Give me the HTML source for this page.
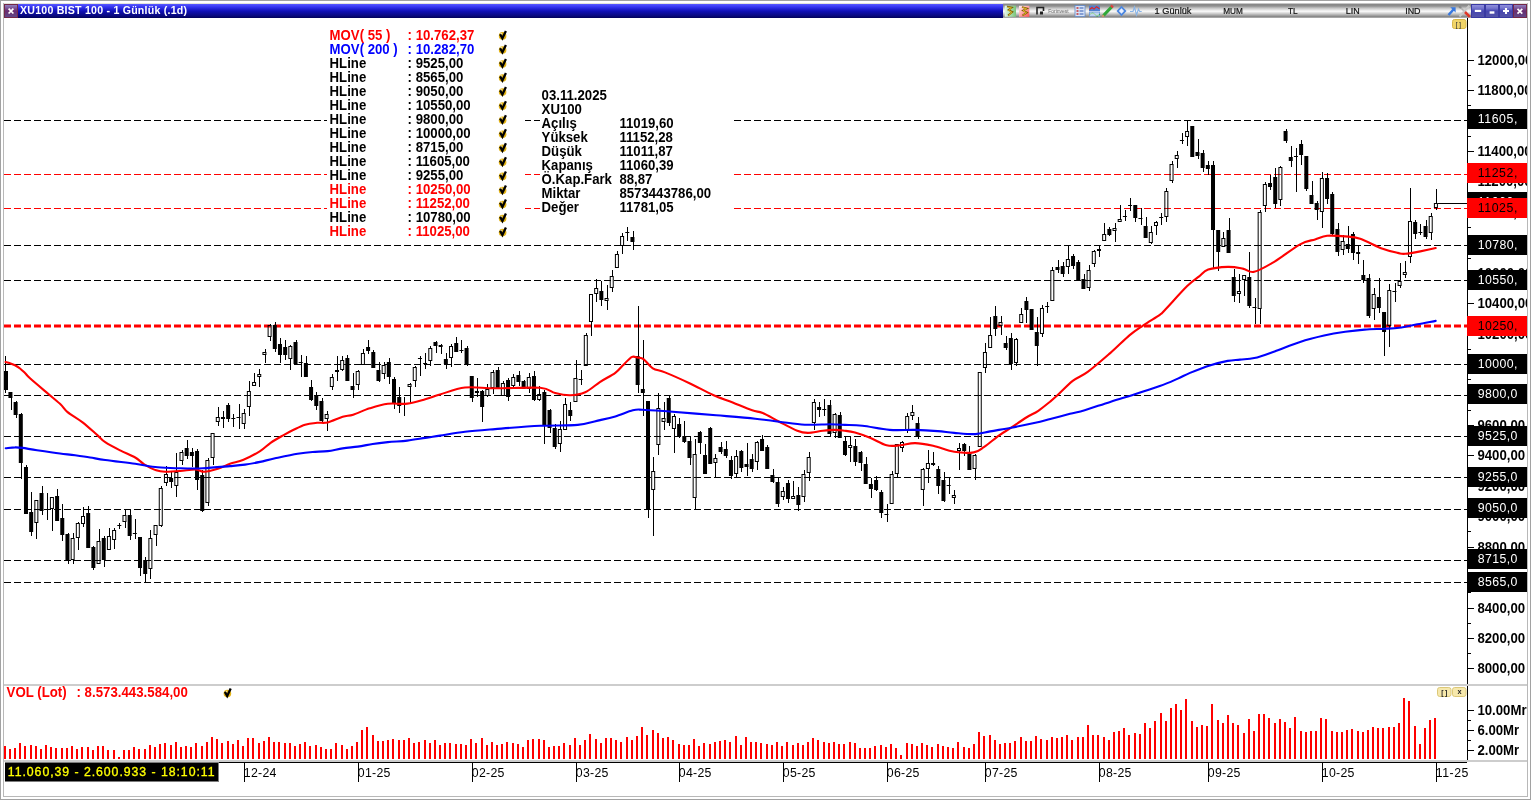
<!DOCTYPE html><html><head><meta charset="utf-8"><title>XU100</title>
<style>html,body{margin:0;padding:0;background:#fff;overflow:hidden}svg{display:block;will-change:transform}text{font-family:"Liberation Sans",sans-serif}</style></head><body>
<svg width="1531" height="800" viewBox="0 0 1531 800">
<defs>
<linearGradient id="gt" x1="0" y1="0" x2="0" y2="1"><stop offset="0" stop-color="#5a5aff"/><stop offset="0.18" stop-color="#3a3af4"/><stop offset="0.5" stop-color="#1010b8"/><stop offset="0.85" stop-color="#08087c"/><stop offset="1" stop-color="#000058"/></linearGradient>
<linearGradient id="gm" x1="0" y1="0" x2="0" y2="1"><stop offset="0" stop-color="#c6c6c6"/><stop offset="0.066" stop-color="#c6c6c6"/><stop offset="0.067" stop-color="#868686"/><stop offset="0.2" stop-color="#8e8e8e"/><stop offset="0.34" stop-color="#c4c4c4"/><stop offset="0.55" stop-color="#fbfbfb"/><stop offset="0.72" stop-color="#c8c8c8"/><stop offset="0.9" stop-color="#8a8a8a"/><stop offset="0.934" stop-color="#a6a6a6"/><stop offset="1" stop-color="#a6a6a6"/></linearGradient>
<linearGradient id="gg" x1="0" y1="0" x2="1" y2="0"><stop offset="0" stop-color="#e4f6e4"/><stop offset="1" stop-color="#78c478"/></linearGradient>
<linearGradient id="gr" x1="0" y1="0" x2="1" y2="1"><stop offset="0" stop-color="#fff4f4"/><stop offset="1" stop-color="#ff5050"/></linearGradient>
<linearGradient id="gb" x1="0" y1="0" x2="0" y2="1"><stop offset="0" stop-color="#9090dc"/><stop offset="0.28" stop-color="#7272cc"/><stop offset="0.5" stop-color="#4646b0"/><stop offset="1" stop-color="#5454a8"/></linearGradient>
<linearGradient id="gp" x1="0" y1="0" x2="0" y2="1"><stop offset="0" stop-color="#9080c0"/><stop offset="0.5" stop-color="#6a2c70"/><stop offset="1" stop-color="#604888"/></linearGradient>
<linearGradient id="gp2" x1="0" y1="0" x2="0" y2="1"><stop offset="0" stop-color="#803888"/><stop offset="0.5" stop-color="#6a2070"/><stop offset="1" stop-color="#5c2468"/></linearGradient>
<g id="chk"><circle cx="3.9" cy="5.6" r="3.8" fill="#e4b414"/><circle cx="2.6" cy="3.6" r="0.9" fill="#fff" opacity="0.8"/><path d="M1.4 3.9 L3.7 8.0 L7.2 0.6" fill="none" stroke="#000" stroke-width="2.3" stroke-linejoin="miter"/></g>
</defs>
<g shape-rendering="crispEdges">
<rect x="0" y="0" width="1531" height="800" fill="#fff"/>
<rect x="0" y="0" width="1531" height="1" fill="#a2a2a2"/><rect x="0" y="0" width="1" height="800" fill="#a2a2a2"/>
<rect x="0" y="799" width="1531" height="1" fill="#a2a2a2"/><rect x="1530" y="0" width="1" height="800" fill="#a2a2a2"/>
<rect x="3" y="3" width="1525" height="1" fill="#e4e4dc"/>
<rect x="3" y="3" width="1" height="794" fill="#b8b8b8"/>
<rect x="1527" y="3" width="1" height="794" fill="#b8b8b8"/>
<rect x="3" y="796" width="1525" height="1" fill="#b8b8b8"/>
<rect x="4" y="4" width="999" height="14" fill="url(#gt)"/>
<rect x="1003" y="3" width="468" height="15" fill="url(#gm)"/>
<rect x="4" y="4" width="14" height="14" fill="#742848"/><rect x="5" y="5" width="12" height="12" fill="url(#gp)"/>
<rect x="1471" y="4" width="14" height="14" fill="#3a3aa2"/><rect x="1472" y="5" width="12" height="12" fill="url(#gb)"/>
<rect x="1485" y="4" width="14" height="14" fill="#3a3aa2"/><rect x="1486" y="5" width="12" height="12" fill="url(#gb)"/>
<rect x="1499" y="4" width="14" height="14" fill="#3a3aa2"/><rect x="1500" y="5" width="12" height="12" fill="url(#gb)"/>
<rect x="1513" y="4" width="14" height="14" fill="#742848"/><rect x="1514" y="5" width="12" height="12" fill="url(#gp)"/>
</g>
<g stroke="#fff" stroke-linecap="butt" fill="none">
<path d="M8.6 8.7 L13.4 13.5 M13.4 8.7 L8.6 13.5" stroke-width="1.7"/>
<path d="M1474.8 10.9 H1481.2" stroke-width="2.2"/>
<path d="M1489.6 12.5 H1494.4" stroke-width="2.4"/>
<path d="M1503 11 H1509 M1506 8 V14" stroke-width="2.1"/>
<path d="M1517.5 8.8 L1522.3 13.6 M1522.3 8.8 L1517.5 13.6" stroke-width="1.7"/>
</g>
<text x="20" y="13.9" font-size="10.6" font-weight="bold" fill="#fff" textLength="167" lengthAdjust="spacing">XU100 BIST 100 - 1 Günlük (.1d)</text>
<text x="1154.6" y="13.6" font-size="8.3" fill="#111" stroke="#111" stroke-width="0.2" textLength="36.8" lengthAdjust="spacingAndGlyphs">1 Günlük</text>
<text x="1223.2" y="13.6" font-size="8.3" fill="#111" stroke="#111" stroke-width="0.2" textLength="19.6" lengthAdjust="spacingAndGlyphs">MUM</text>
<text x="1288" y="13.6" font-size="8.3" fill="#111" stroke="#111" stroke-width="0.2" textLength="9.6" lengthAdjust="spacingAndGlyphs">TL</text>
<text x="1345.8" y="13.6" font-size="8.3" fill="#111" stroke="#111" stroke-width="0.2" textLength="13.9" lengthAdjust="spacingAndGlyphs">LIN</text>
<text x="1405.2" y="13.6" font-size="8.3" fill="#111" stroke="#111" stroke-width="0.2" textLength="15.4" lengthAdjust="spacingAndGlyphs">IND</text>
<g>
<rect x="1004.7" y="5.6" width="11.3" height="11.2" fill="url(#gg)"/><path d="M1007 6.5 l5 1 l-3.5 2.5 l4 2 l-4.5 3.5" stroke="#7a5a08" stroke-width="1.6" fill="none"/><path d="M1007.5 7 l4 1 l-3 2.4 l3.6 2 l-3.6 3" stroke="#e8c020" stroke-width="0.9" fill="none"/>
<rect x="1019" y="5.8" width="10.3" height="11" fill="url(#gr)"/><path d="M1022 7 l5 1.5 l-4 2 l4 2 l-4.5 3" stroke="#7a5a08" stroke-width="1.7" fill="none"/><path d="M1022.5 7.4 l4 1.3 l-3.4 2 l3.4 2 l-3.6 2.6" stroke="#e8c020" stroke-width="0.9" fill="none"/>
<path d="M1037 14.5 V7.5 H1043.5 V11" stroke="#222" stroke-width="1.6" fill="none"/><rect x="1040" y="11.5" width="3" height="3" fill="#222"/>
<text x="1048.2" y="13.3" font-size="6.2" fill="#666" textLength="20.5" lengthAdjust="spacingAndGlyphs">Forinvest</text>
<rect x="1075" y="5.5" width="10" height="11" fill="#d8e4f8" stroke="#6088c8" stroke-width="0.8"/><path d="M1076.5 8 h2 M1076.5 11 h2 M1076.5 14 h2" stroke="#c03030" stroke-width="1.4"/><path d="M1079.5 8 h4 M1079.5 11 h4 M1079.5 14 h4" stroke="#3058b0" stroke-width="1.2"/>
<rect x="1089" y="5.5" width="11" height="5.5" fill="#5080d0"/><rect x="1089" y="11.5" width="11" height="5" fill="#78a0e0"/><path d="M1089.5 9.5 l2.5 -2 l2 1.6 l2.5 -2.4 l3 2" stroke="#e02020" stroke-width="1.1" fill="none"/><path d="M1090 14.5 q2.5 -3 5 0 t4.5 -0.5" stroke="#20a020" stroke-width="1.1" fill="none"/><rect x="1090" y="12.5" width="9" height="3.4" fill="#fff" opacity="0.55"/>
<path d="M1103.5 15.5 L1112 6.5" stroke="#30a838" stroke-width="3.2"/><path d="M1111.2 7.3 l1.6 -1.7" stroke="#e04040" stroke-width="3"/><path d="M1102.2 16.8 l1.6 -1.6" stroke="#c89860" stroke-width="2"/>
<path d="M1121.5 5.8 l5 5.2 l-5 5.2 l-5 -5.2 z" fill="#4a86e0"/><path d="M1121.5 8.3 l2.6 2.7 l-2.6 2.7 l-2.6 -2.7 z" fill="#e8f0ff"/>
<path d="M1130 11.5 h3 l1.5 -4.5 l2 8 l2 -6 l1.2 2.5 h2" stroke="#88b4e8" stroke-width="1.1" fill="none"/>
<path d="M1448.5 15 L1453.5 9.5" stroke="#3878e0" stroke-width="2.6"/><path d="M1450.3 7.2 h5.3 v5.4 z" fill="#3878e0"/>
<path d="M1459 6 L1469.5 16.5" stroke="#b0b0b0" stroke-width="1.6"/><path d="M1464.5 11.5 L1469.8 16.8" stroke="#e03828" stroke-width="2.6"/><path d="M1469.5 5.5 L1459.5 16.5" stroke="#c8c8c8" stroke-width="2"/><path d="M1459 6 l2 2" stroke="#888" stroke-width="2.4"/>
</g>
<rect x="1452.5" y="19.5" width="13.5" height="9" rx="2" fill="#f0d468" stroke="#d8b848" stroke-width="1"/>
<text x="1455.6" y="27" font-size="7.5" fill="#333" letter-spacing="1.2">[]</text>
<g shape-rendering="crispEdges">
<rect x="1467" y="18" width="1" height="742" fill="#000"/>
<rect x="4" y="684" width="1523" height="2" fill="#cdcdcd"/>
<rect x="4" y="760" width="1523" height="2" fill="#cdcdcd"/>
<rect x="219" y="762" width="1248" height="1" fill="#000"/>
<path d="M4 120h7v1h-7zM14 120h7v1h-7zM24 120h7v1h-7zM34 120h7v1h-7zM44 120h7v1h-7zM54 120h7v1h-7zM64 120h7v1h-7zM74 120h7v1h-7zM84 120h7v1h-7zM94 120h7v1h-7zM104 120h7v1h-7zM114 120h7v1h-7zM124 120h7v1h-7zM134 120h7v1h-7zM144 120h7v1h-7zM154 120h7v1h-7zM164 120h7v1h-7zM174 120h7v1h-7zM184 120h7v1h-7zM194 120h7v1h-7zM204 120h7v1h-7zM214 120h7v1h-7zM224 120h7v1h-7zM234 120h7v1h-7zM244 120h7v1h-7zM254 120h7v1h-7zM264 120h7v1h-7zM274 120h7v1h-7zM284 120h7v1h-7zM294 120h7v1h-7zM304 120h7v1h-7zM314 120h7v1h-7zM324 120h7v1h-7zM334 120h7v1h-7zM344 120h7v1h-7zM354 120h7v1h-7zM364 120h7v1h-7zM374 120h7v1h-7zM384 120h7v1h-7zM394 120h7v1h-7zM404 120h7v1h-7zM414 120h7v1h-7zM424 120h7v1h-7zM434 120h7v1h-7zM444 120h7v1h-7zM454 120h7v1h-7zM464 120h7v1h-7zM474 120h7v1h-7zM484 120h7v1h-7zM494 120h7v1h-7zM504 120h7v1h-7zM514 120h7v1h-7zM524 120h7v1h-7zM534 120h7v1h-7zM544 120h7v1h-7zM554 120h7v1h-7zM564 120h7v1h-7zM574 120h7v1h-7zM584 120h7v1h-7zM594 120h7v1h-7zM604 120h7v1h-7zM614 120h7v1h-7zM624 120h7v1h-7zM634 120h7v1h-7zM644 120h7v1h-7zM654 120h7v1h-7zM664 120h7v1h-7zM674 120h7v1h-7zM684 120h7v1h-7zM694 120h7v1h-7zM704 120h7v1h-7zM714 120h7v1h-7zM724 120h7v1h-7zM734 120h7v1h-7zM744 120h7v1h-7zM754 120h7v1h-7zM764 120h7v1h-7zM774 120h7v1h-7zM784 120h7v1h-7zM794 120h7v1h-7zM804 120h7v1h-7zM814 120h7v1h-7zM824 120h7v1h-7zM834 120h7v1h-7zM844 120h7v1h-7zM854 120h7v1h-7zM864 120h7v1h-7zM874 120h7v1h-7zM884 120h7v1h-7zM894 120h7v1h-7zM904 120h7v1h-7zM914 120h7v1h-7zM924 120h7v1h-7zM934 120h7v1h-7zM944 120h7v1h-7zM954 120h7v1h-7zM964 120h7v1h-7zM974 120h7v1h-7zM984 120h7v1h-7zM994 120h7v1h-7zM1004 120h7v1h-7zM1014 120h7v1h-7zM1024 120h7v1h-7zM1034 120h7v1h-7zM1044 120h7v1h-7zM1054 120h7v1h-7zM1064 120h7v1h-7zM1074 120h7v1h-7zM1084 120h7v1h-7zM1094 120h7v1h-7zM1104 120h7v1h-7zM1114 120h7v1h-7zM1124 120h7v1h-7zM1134 120h7v1h-7zM1144 120h7v1h-7zM1154 120h7v1h-7zM1164 120h7v1h-7zM1174 120h7v1h-7zM1184 120h7v1h-7zM1194 120h7v1h-7zM1204 120h7v1h-7zM1214 120h7v1h-7zM1224 120h7v1h-7zM1234 120h7v1h-7zM1244 120h7v1h-7zM1254 120h7v1h-7zM1264 120h7v1h-7zM1274 120h7v1h-7zM1284 120h7v1h-7zM1294 120h7v1h-7zM1304 120h7v1h-7zM1314 120h7v1h-7zM1324 120h7v1h-7zM1334 120h7v1h-7zM1344 120h7v1h-7zM1354 120h7v1h-7zM1364 120h7v1h-7zM1374 120h7v1h-7zM1384 120h7v1h-7zM1394 120h7v1h-7zM1404 120h7v1h-7zM1414 120h7v1h-7zM1424 120h7v1h-7zM1434 120h7v1h-7zM1444 120h7v1h-7zM1454 120h7v1h-7zM1464 120h3v1h-3z" fill="#000"/>
<path d="M4 174h7v1h-7zM14 174h7v1h-7zM24 174h7v1h-7zM34 174h7v1h-7zM44 174h7v1h-7zM54 174h7v1h-7zM64 174h7v1h-7zM74 174h7v1h-7zM84 174h7v1h-7zM94 174h7v1h-7zM104 174h7v1h-7zM114 174h7v1h-7zM124 174h7v1h-7zM134 174h7v1h-7zM144 174h7v1h-7zM154 174h7v1h-7zM164 174h7v1h-7zM174 174h7v1h-7zM184 174h7v1h-7zM194 174h7v1h-7zM204 174h7v1h-7zM214 174h7v1h-7zM224 174h7v1h-7zM234 174h7v1h-7zM244 174h7v1h-7zM254 174h7v1h-7zM264 174h7v1h-7zM274 174h7v1h-7zM284 174h7v1h-7zM294 174h7v1h-7zM304 174h7v1h-7zM314 174h7v1h-7zM324 174h7v1h-7zM334 174h7v1h-7zM344 174h7v1h-7zM354 174h7v1h-7zM364 174h7v1h-7zM374 174h7v1h-7zM384 174h7v1h-7zM394 174h7v1h-7zM404 174h7v1h-7zM414 174h7v1h-7zM424 174h7v1h-7zM434 174h7v1h-7zM444 174h7v1h-7zM454 174h7v1h-7zM464 174h7v1h-7zM474 174h7v1h-7zM484 174h7v1h-7zM494 174h7v1h-7zM504 174h7v1h-7zM514 174h7v1h-7zM524 174h7v1h-7zM534 174h7v1h-7zM544 174h7v1h-7zM554 174h7v1h-7zM564 174h7v1h-7zM574 174h7v1h-7zM584 174h7v1h-7zM594 174h7v1h-7zM604 174h7v1h-7zM614 174h7v1h-7zM624 174h7v1h-7zM634 174h7v1h-7zM644 174h7v1h-7zM654 174h7v1h-7zM664 174h7v1h-7zM674 174h7v1h-7zM684 174h7v1h-7zM694 174h7v1h-7zM704 174h7v1h-7zM714 174h7v1h-7zM724 174h7v1h-7zM734 174h7v1h-7zM744 174h7v1h-7zM754 174h7v1h-7zM764 174h7v1h-7zM774 174h7v1h-7zM784 174h7v1h-7zM794 174h7v1h-7zM804 174h7v1h-7zM814 174h7v1h-7zM824 174h7v1h-7zM834 174h7v1h-7zM844 174h7v1h-7zM854 174h7v1h-7zM864 174h7v1h-7zM874 174h7v1h-7zM884 174h7v1h-7zM894 174h7v1h-7zM904 174h7v1h-7zM914 174h7v1h-7zM924 174h7v1h-7zM934 174h7v1h-7zM944 174h7v1h-7zM954 174h7v1h-7zM964 174h7v1h-7zM974 174h7v1h-7zM984 174h7v1h-7zM994 174h7v1h-7zM1004 174h7v1h-7zM1014 174h7v1h-7zM1024 174h7v1h-7zM1034 174h7v1h-7zM1044 174h7v1h-7zM1054 174h7v1h-7zM1064 174h7v1h-7zM1074 174h7v1h-7zM1084 174h7v1h-7zM1094 174h7v1h-7zM1104 174h7v1h-7zM1114 174h7v1h-7zM1124 174h7v1h-7zM1134 174h7v1h-7zM1144 174h7v1h-7zM1154 174h7v1h-7zM1164 174h7v1h-7zM1174 174h7v1h-7zM1184 174h7v1h-7zM1194 174h7v1h-7zM1204 174h7v1h-7zM1214 174h7v1h-7zM1224 174h7v1h-7zM1234 174h7v1h-7zM1244 174h7v1h-7zM1254 174h7v1h-7zM1264 174h7v1h-7zM1274 174h7v1h-7zM1284 174h7v1h-7zM1294 174h7v1h-7zM1304 174h7v1h-7zM1314 174h7v1h-7zM1324 174h7v1h-7zM1334 174h7v1h-7zM1344 174h7v1h-7zM1354 174h7v1h-7zM1364 174h7v1h-7zM1374 174h7v1h-7zM1384 174h7v1h-7zM1394 174h7v1h-7zM1404 174h7v1h-7zM1414 174h7v1h-7zM1424 174h7v1h-7zM1434 174h7v1h-7zM1444 174h7v1h-7zM1454 174h7v1h-7zM1464 174h3v1h-3z" fill="#f00"/>
<path d="M4 208h7v1h-7zM14 208h7v1h-7zM24 208h7v1h-7zM34 208h7v1h-7zM44 208h7v1h-7zM54 208h7v1h-7zM64 208h7v1h-7zM74 208h7v1h-7zM84 208h7v1h-7zM94 208h7v1h-7zM104 208h7v1h-7zM114 208h7v1h-7zM124 208h7v1h-7zM134 208h7v1h-7zM144 208h7v1h-7zM154 208h7v1h-7zM164 208h7v1h-7zM174 208h7v1h-7zM184 208h7v1h-7zM194 208h7v1h-7zM204 208h7v1h-7zM214 208h7v1h-7zM224 208h7v1h-7zM234 208h7v1h-7zM244 208h7v1h-7zM254 208h7v1h-7zM264 208h7v1h-7zM274 208h7v1h-7zM284 208h7v1h-7zM294 208h7v1h-7zM304 208h7v1h-7zM314 208h7v1h-7zM324 208h7v1h-7zM334 208h7v1h-7zM344 208h7v1h-7zM354 208h7v1h-7zM364 208h7v1h-7zM374 208h7v1h-7zM384 208h7v1h-7zM394 208h7v1h-7zM404 208h7v1h-7zM414 208h7v1h-7zM424 208h7v1h-7zM434 208h7v1h-7zM444 208h7v1h-7zM454 208h7v1h-7zM464 208h7v1h-7zM474 208h7v1h-7zM484 208h7v1h-7zM494 208h7v1h-7zM504 208h7v1h-7zM514 208h7v1h-7zM524 208h7v1h-7zM534 208h7v1h-7zM544 208h7v1h-7zM554 208h7v1h-7zM564 208h7v1h-7zM574 208h7v1h-7zM584 208h7v1h-7zM594 208h7v1h-7zM604 208h7v1h-7zM614 208h7v1h-7zM624 208h7v1h-7zM634 208h7v1h-7zM644 208h7v1h-7zM654 208h7v1h-7zM664 208h7v1h-7zM674 208h7v1h-7zM684 208h7v1h-7zM694 208h7v1h-7zM704 208h7v1h-7zM714 208h7v1h-7zM724 208h7v1h-7zM734 208h7v1h-7zM744 208h7v1h-7zM754 208h7v1h-7zM764 208h7v1h-7zM774 208h7v1h-7zM784 208h7v1h-7zM794 208h7v1h-7zM804 208h7v1h-7zM814 208h7v1h-7zM824 208h7v1h-7zM834 208h7v1h-7zM844 208h7v1h-7zM854 208h7v1h-7zM864 208h7v1h-7zM874 208h7v1h-7zM884 208h7v1h-7zM894 208h7v1h-7zM904 208h7v1h-7zM914 208h7v1h-7zM924 208h7v1h-7zM934 208h7v1h-7zM944 208h7v1h-7zM954 208h7v1h-7zM964 208h7v1h-7zM974 208h7v1h-7zM984 208h7v1h-7zM994 208h7v1h-7zM1004 208h7v1h-7zM1014 208h7v1h-7zM1024 208h7v1h-7zM1034 208h7v1h-7zM1044 208h7v1h-7zM1054 208h7v1h-7zM1064 208h7v1h-7zM1074 208h7v1h-7zM1084 208h7v1h-7zM1094 208h7v1h-7zM1104 208h7v1h-7zM1114 208h7v1h-7zM1124 208h7v1h-7zM1134 208h7v1h-7zM1144 208h7v1h-7zM1154 208h7v1h-7zM1164 208h7v1h-7zM1174 208h7v1h-7zM1184 208h7v1h-7zM1194 208h7v1h-7zM1204 208h7v1h-7zM1214 208h7v1h-7zM1224 208h7v1h-7zM1234 208h7v1h-7zM1244 208h7v1h-7zM1254 208h7v1h-7zM1264 208h7v1h-7zM1274 208h7v1h-7zM1284 208h7v1h-7zM1294 208h7v1h-7zM1304 208h7v1h-7zM1314 208h7v1h-7zM1324 208h7v1h-7zM1334 208h7v1h-7zM1344 208h7v1h-7zM1354 208h7v1h-7zM1364 208h7v1h-7zM1374 208h7v1h-7zM1384 208h7v1h-7zM1394 208h7v1h-7zM1404 208h7v1h-7zM1414 208h7v1h-7zM1424 208h7v1h-7zM1434 208h7v1h-7zM1444 208h7v1h-7zM1454 208h7v1h-7zM1464 208h3v1h-3z" fill="#f00"/>
<path d="M4 245h7v1h-7zM14 245h7v1h-7zM24 245h7v1h-7zM34 245h7v1h-7zM44 245h7v1h-7zM54 245h7v1h-7zM64 245h7v1h-7zM74 245h7v1h-7zM84 245h7v1h-7zM94 245h7v1h-7zM104 245h7v1h-7zM114 245h7v1h-7zM124 245h7v1h-7zM134 245h7v1h-7zM144 245h7v1h-7zM154 245h7v1h-7zM164 245h7v1h-7zM174 245h7v1h-7zM184 245h7v1h-7zM194 245h7v1h-7zM204 245h7v1h-7zM214 245h7v1h-7zM224 245h7v1h-7zM234 245h7v1h-7zM244 245h7v1h-7zM254 245h7v1h-7zM264 245h7v1h-7zM274 245h7v1h-7zM284 245h7v1h-7zM294 245h7v1h-7zM304 245h7v1h-7zM314 245h7v1h-7zM324 245h7v1h-7zM334 245h7v1h-7zM344 245h7v1h-7zM354 245h7v1h-7zM364 245h7v1h-7zM374 245h7v1h-7zM384 245h7v1h-7zM394 245h7v1h-7zM404 245h7v1h-7zM414 245h7v1h-7zM424 245h7v1h-7zM434 245h7v1h-7zM444 245h7v1h-7zM454 245h7v1h-7zM464 245h7v1h-7zM474 245h7v1h-7zM484 245h7v1h-7zM494 245h7v1h-7zM504 245h7v1h-7zM514 245h7v1h-7zM524 245h7v1h-7zM534 245h7v1h-7zM544 245h7v1h-7zM554 245h7v1h-7zM564 245h7v1h-7zM574 245h7v1h-7zM584 245h7v1h-7zM594 245h7v1h-7zM604 245h7v1h-7zM614 245h7v1h-7zM624 245h7v1h-7zM634 245h7v1h-7zM644 245h7v1h-7zM654 245h7v1h-7zM664 245h7v1h-7zM674 245h7v1h-7zM684 245h7v1h-7zM694 245h7v1h-7zM704 245h7v1h-7zM714 245h7v1h-7zM724 245h7v1h-7zM734 245h7v1h-7zM744 245h7v1h-7zM754 245h7v1h-7zM764 245h7v1h-7zM774 245h7v1h-7zM784 245h7v1h-7zM794 245h7v1h-7zM804 245h7v1h-7zM814 245h7v1h-7zM824 245h7v1h-7zM834 245h7v1h-7zM844 245h7v1h-7zM854 245h7v1h-7zM864 245h7v1h-7zM874 245h7v1h-7zM884 245h7v1h-7zM894 245h7v1h-7zM904 245h7v1h-7zM914 245h7v1h-7zM924 245h7v1h-7zM934 245h7v1h-7zM944 245h7v1h-7zM954 245h7v1h-7zM964 245h7v1h-7zM974 245h7v1h-7zM984 245h7v1h-7zM994 245h7v1h-7zM1004 245h7v1h-7zM1014 245h7v1h-7zM1024 245h7v1h-7zM1034 245h7v1h-7zM1044 245h7v1h-7zM1054 245h7v1h-7zM1064 245h7v1h-7zM1074 245h7v1h-7zM1084 245h7v1h-7zM1094 245h7v1h-7zM1104 245h7v1h-7zM1114 245h7v1h-7zM1124 245h7v1h-7zM1134 245h7v1h-7zM1144 245h7v1h-7zM1154 245h7v1h-7zM1164 245h7v1h-7zM1174 245h7v1h-7zM1184 245h7v1h-7zM1194 245h7v1h-7zM1204 245h7v1h-7zM1214 245h7v1h-7zM1224 245h7v1h-7zM1234 245h7v1h-7zM1244 245h7v1h-7zM1254 245h7v1h-7zM1264 245h7v1h-7zM1274 245h7v1h-7zM1284 245h7v1h-7zM1294 245h7v1h-7zM1304 245h7v1h-7zM1314 245h7v1h-7zM1324 245h7v1h-7zM1334 245h7v1h-7zM1344 245h7v1h-7zM1354 245h7v1h-7zM1364 245h7v1h-7zM1374 245h7v1h-7zM1384 245h7v1h-7zM1394 245h7v1h-7zM1404 245h7v1h-7zM1414 245h7v1h-7zM1424 245h7v1h-7zM1434 245h7v1h-7zM1444 245h7v1h-7zM1454 245h7v1h-7zM1464 245h3v1h-3z" fill="#000"/>
<path d="M4 280h7v1h-7zM14 280h7v1h-7zM24 280h7v1h-7zM34 280h7v1h-7zM44 280h7v1h-7zM54 280h7v1h-7zM64 280h7v1h-7zM74 280h7v1h-7zM84 280h7v1h-7zM94 280h7v1h-7zM104 280h7v1h-7zM114 280h7v1h-7zM124 280h7v1h-7zM134 280h7v1h-7zM144 280h7v1h-7zM154 280h7v1h-7zM164 280h7v1h-7zM174 280h7v1h-7zM184 280h7v1h-7zM194 280h7v1h-7zM204 280h7v1h-7zM214 280h7v1h-7zM224 280h7v1h-7zM234 280h7v1h-7zM244 280h7v1h-7zM254 280h7v1h-7zM264 280h7v1h-7zM274 280h7v1h-7zM284 280h7v1h-7zM294 280h7v1h-7zM304 280h7v1h-7zM314 280h7v1h-7zM324 280h7v1h-7zM334 280h7v1h-7zM344 280h7v1h-7zM354 280h7v1h-7zM364 280h7v1h-7zM374 280h7v1h-7zM384 280h7v1h-7zM394 280h7v1h-7zM404 280h7v1h-7zM414 280h7v1h-7zM424 280h7v1h-7zM434 280h7v1h-7zM444 280h7v1h-7zM454 280h7v1h-7zM464 280h7v1h-7zM474 280h7v1h-7zM484 280h7v1h-7zM494 280h7v1h-7zM504 280h7v1h-7zM514 280h7v1h-7zM524 280h7v1h-7zM534 280h7v1h-7zM544 280h7v1h-7zM554 280h7v1h-7zM564 280h7v1h-7zM574 280h7v1h-7zM584 280h7v1h-7zM594 280h7v1h-7zM604 280h7v1h-7zM614 280h7v1h-7zM624 280h7v1h-7zM634 280h7v1h-7zM644 280h7v1h-7zM654 280h7v1h-7zM664 280h7v1h-7zM674 280h7v1h-7zM684 280h7v1h-7zM694 280h7v1h-7zM704 280h7v1h-7zM714 280h7v1h-7zM724 280h7v1h-7zM734 280h7v1h-7zM744 280h7v1h-7zM754 280h7v1h-7zM764 280h7v1h-7zM774 280h7v1h-7zM784 280h7v1h-7zM794 280h7v1h-7zM804 280h7v1h-7zM814 280h7v1h-7zM824 280h7v1h-7zM834 280h7v1h-7zM844 280h7v1h-7zM854 280h7v1h-7zM864 280h7v1h-7zM874 280h7v1h-7zM884 280h7v1h-7zM894 280h7v1h-7zM904 280h7v1h-7zM914 280h7v1h-7zM924 280h7v1h-7zM934 280h7v1h-7zM944 280h7v1h-7zM954 280h7v1h-7zM964 280h7v1h-7zM974 280h7v1h-7zM984 280h7v1h-7zM994 280h7v1h-7zM1004 280h7v1h-7zM1014 280h7v1h-7zM1024 280h7v1h-7zM1034 280h7v1h-7zM1044 280h7v1h-7zM1054 280h7v1h-7zM1064 280h7v1h-7zM1074 280h7v1h-7zM1084 280h7v1h-7zM1094 280h7v1h-7zM1104 280h7v1h-7zM1114 280h7v1h-7zM1124 280h7v1h-7zM1134 280h7v1h-7zM1144 280h7v1h-7zM1154 280h7v1h-7zM1164 280h7v1h-7zM1174 280h7v1h-7zM1184 280h7v1h-7zM1194 280h7v1h-7zM1204 280h7v1h-7zM1214 280h7v1h-7zM1224 280h7v1h-7zM1234 280h7v1h-7zM1244 280h7v1h-7zM1254 280h7v1h-7zM1264 280h7v1h-7zM1274 280h7v1h-7zM1284 280h7v1h-7zM1294 280h7v1h-7zM1304 280h7v1h-7zM1314 280h7v1h-7zM1324 280h7v1h-7zM1334 280h7v1h-7zM1344 280h7v1h-7zM1354 280h7v1h-7zM1364 280h7v1h-7zM1374 280h7v1h-7zM1384 280h7v1h-7zM1394 280h7v1h-7zM1404 280h7v1h-7zM1414 280h7v1h-7zM1424 280h7v1h-7zM1434 280h7v1h-7zM1444 280h7v1h-7zM1454 280h7v1h-7zM1464 280h3v1h-3z" fill="#000"/>
<path d="M4 324.6h7v3h-7zM14 324.6h7v3h-7zM24 324.6h7v3h-7zM34 324.6h7v3h-7zM44 324.6h7v3h-7zM54 324.6h7v3h-7zM64 324.6h7v3h-7zM74 324.6h7v3h-7zM84 324.6h7v3h-7zM94 324.6h7v3h-7zM104 324.6h7v3h-7zM114 324.6h7v3h-7zM124 324.6h7v3h-7zM134 324.6h7v3h-7zM144 324.6h7v3h-7zM154 324.6h7v3h-7zM164 324.6h7v3h-7zM174 324.6h7v3h-7zM184 324.6h7v3h-7zM194 324.6h7v3h-7zM204 324.6h7v3h-7zM214 324.6h7v3h-7zM224 324.6h7v3h-7zM234 324.6h7v3h-7zM244 324.6h7v3h-7zM254 324.6h7v3h-7zM264 324.6h7v3h-7zM274 324.6h7v3h-7zM284 324.6h7v3h-7zM294 324.6h7v3h-7zM304 324.6h7v3h-7zM314 324.6h7v3h-7zM324 324.6h7v3h-7zM334 324.6h7v3h-7zM344 324.6h7v3h-7zM354 324.6h7v3h-7zM364 324.6h7v3h-7zM374 324.6h7v3h-7zM384 324.6h7v3h-7zM394 324.6h7v3h-7zM404 324.6h7v3h-7zM414 324.6h7v3h-7zM424 324.6h7v3h-7zM434 324.6h7v3h-7zM444 324.6h7v3h-7zM454 324.6h7v3h-7zM464 324.6h7v3h-7zM474 324.6h7v3h-7zM484 324.6h7v3h-7zM494 324.6h7v3h-7zM504 324.6h7v3h-7zM514 324.6h7v3h-7zM524 324.6h7v3h-7zM534 324.6h7v3h-7zM544 324.6h7v3h-7zM554 324.6h7v3h-7zM564 324.6h7v3h-7zM574 324.6h7v3h-7zM584 324.6h7v3h-7zM594 324.6h7v3h-7zM604 324.6h7v3h-7zM614 324.6h7v3h-7zM624 324.6h7v3h-7zM634 324.6h7v3h-7zM644 324.6h7v3h-7zM654 324.6h7v3h-7zM664 324.6h7v3h-7zM674 324.6h7v3h-7zM684 324.6h7v3h-7zM694 324.6h7v3h-7zM704 324.6h7v3h-7zM714 324.6h7v3h-7zM724 324.6h7v3h-7zM734 324.6h7v3h-7zM744 324.6h7v3h-7zM754 324.6h7v3h-7zM764 324.6h7v3h-7zM774 324.6h7v3h-7zM784 324.6h7v3h-7zM794 324.6h7v3h-7zM804 324.6h7v3h-7zM814 324.6h7v3h-7zM824 324.6h7v3h-7zM834 324.6h7v3h-7zM844 324.6h7v3h-7zM854 324.6h7v3h-7zM864 324.6h7v3h-7zM874 324.6h7v3h-7zM884 324.6h7v3h-7zM894 324.6h7v3h-7zM904 324.6h7v3h-7zM914 324.6h7v3h-7zM924 324.6h7v3h-7zM934 324.6h7v3h-7zM944 324.6h7v3h-7zM954 324.6h7v3h-7zM964 324.6h7v3h-7zM974 324.6h7v3h-7zM984 324.6h7v3h-7zM994 324.6h7v3h-7zM1004 324.6h7v3h-7zM1014 324.6h7v3h-7zM1024 324.6h7v3h-7zM1034 324.6h7v3h-7zM1044 324.6h7v3h-7zM1054 324.6h7v3h-7zM1064 324.6h7v3h-7zM1074 324.6h7v3h-7zM1084 324.6h7v3h-7zM1094 324.6h7v3h-7zM1104 324.6h7v3h-7zM1114 324.6h7v3h-7zM1124 324.6h7v3h-7zM1134 324.6h7v3h-7zM1144 324.6h7v3h-7zM1154 324.6h7v3h-7zM1164 324.6h7v3h-7zM1174 324.6h7v3h-7zM1184 324.6h7v3h-7zM1194 324.6h7v3h-7zM1204 324.6h7v3h-7zM1214 324.6h7v3h-7zM1224 324.6h7v3h-7zM1234 324.6h7v3h-7zM1244 324.6h7v3h-7zM1254 324.6h7v3h-7zM1264 324.6h7v3h-7zM1274 324.6h7v3h-7zM1284 324.6h7v3h-7zM1294 324.6h7v3h-7zM1304 324.6h7v3h-7zM1314 324.6h7v3h-7zM1324 324.6h7v3h-7zM1334 324.6h7v3h-7zM1344 324.6h7v3h-7zM1354 324.6h7v3h-7zM1364 324.6h7v3h-7zM1374 324.6h7v3h-7zM1384 324.6h7v3h-7zM1394 324.6h7v3h-7zM1404 324.6h7v3h-7zM1414 324.6h7v3h-7zM1424 324.6h7v3h-7zM1434 324.6h7v3h-7zM1444 324.6h7v3h-7zM1454 324.6h7v3h-7zM1464 324.6h3v3h-3z" fill="#f00" shape-rendering="geometricPrecision"/>
<path d="M4 364h7v1h-7zM14 364h7v1h-7zM24 364h7v1h-7zM34 364h7v1h-7zM44 364h7v1h-7zM54 364h7v1h-7zM64 364h7v1h-7zM74 364h7v1h-7zM84 364h7v1h-7zM94 364h7v1h-7zM104 364h7v1h-7zM114 364h7v1h-7zM124 364h7v1h-7zM134 364h7v1h-7zM144 364h7v1h-7zM154 364h7v1h-7zM164 364h7v1h-7zM174 364h7v1h-7zM184 364h7v1h-7zM194 364h7v1h-7zM204 364h7v1h-7zM214 364h7v1h-7zM224 364h7v1h-7zM234 364h7v1h-7zM244 364h7v1h-7zM254 364h7v1h-7zM264 364h7v1h-7zM274 364h7v1h-7zM284 364h7v1h-7zM294 364h7v1h-7zM304 364h7v1h-7zM314 364h7v1h-7zM324 364h7v1h-7zM334 364h7v1h-7zM344 364h7v1h-7zM354 364h7v1h-7zM364 364h7v1h-7zM374 364h7v1h-7zM384 364h7v1h-7zM394 364h7v1h-7zM404 364h7v1h-7zM414 364h7v1h-7zM424 364h7v1h-7zM434 364h7v1h-7zM444 364h7v1h-7zM454 364h7v1h-7zM464 364h7v1h-7zM474 364h7v1h-7zM484 364h7v1h-7zM494 364h7v1h-7zM504 364h7v1h-7zM514 364h7v1h-7zM524 364h7v1h-7zM534 364h7v1h-7zM544 364h7v1h-7zM554 364h7v1h-7zM564 364h7v1h-7zM574 364h7v1h-7zM584 364h7v1h-7zM594 364h7v1h-7zM604 364h7v1h-7zM614 364h7v1h-7zM624 364h7v1h-7zM634 364h7v1h-7zM644 364h7v1h-7zM654 364h7v1h-7zM664 364h7v1h-7zM674 364h7v1h-7zM684 364h7v1h-7zM694 364h7v1h-7zM704 364h7v1h-7zM714 364h7v1h-7zM724 364h7v1h-7zM734 364h7v1h-7zM744 364h7v1h-7zM754 364h7v1h-7zM764 364h7v1h-7zM774 364h7v1h-7zM784 364h7v1h-7zM794 364h7v1h-7zM804 364h7v1h-7zM814 364h7v1h-7zM824 364h7v1h-7zM834 364h7v1h-7zM844 364h7v1h-7zM854 364h7v1h-7zM864 364h7v1h-7zM874 364h7v1h-7zM884 364h7v1h-7zM894 364h7v1h-7zM904 364h7v1h-7zM914 364h7v1h-7zM924 364h7v1h-7zM934 364h7v1h-7zM944 364h7v1h-7zM954 364h7v1h-7zM964 364h7v1h-7zM974 364h7v1h-7zM984 364h7v1h-7zM994 364h7v1h-7zM1004 364h7v1h-7zM1014 364h7v1h-7zM1024 364h7v1h-7zM1034 364h7v1h-7zM1044 364h7v1h-7zM1054 364h7v1h-7zM1064 364h7v1h-7zM1074 364h7v1h-7zM1084 364h7v1h-7zM1094 364h7v1h-7zM1104 364h7v1h-7zM1114 364h7v1h-7zM1124 364h7v1h-7zM1134 364h7v1h-7zM1144 364h7v1h-7zM1154 364h7v1h-7zM1164 364h7v1h-7zM1174 364h7v1h-7zM1184 364h7v1h-7zM1194 364h7v1h-7zM1204 364h7v1h-7zM1214 364h7v1h-7zM1224 364h7v1h-7zM1234 364h7v1h-7zM1244 364h7v1h-7zM1254 364h7v1h-7zM1264 364h7v1h-7zM1274 364h7v1h-7zM1284 364h7v1h-7zM1294 364h7v1h-7zM1304 364h7v1h-7zM1314 364h7v1h-7zM1324 364h7v1h-7zM1334 364h7v1h-7zM1344 364h7v1h-7zM1354 364h7v1h-7zM1364 364h7v1h-7zM1374 364h7v1h-7zM1384 364h7v1h-7zM1394 364h7v1h-7zM1404 364h7v1h-7zM1414 364h7v1h-7zM1424 364h7v1h-7zM1434 364h7v1h-7zM1444 364h7v1h-7zM1454 364h7v1h-7zM1464 364h3v1h-3z" fill="#000"/>
<path d="M4 395h7v1h-7zM14 395h7v1h-7zM24 395h7v1h-7zM34 395h7v1h-7zM44 395h7v1h-7zM54 395h7v1h-7zM64 395h7v1h-7zM74 395h7v1h-7zM84 395h7v1h-7zM94 395h7v1h-7zM104 395h7v1h-7zM114 395h7v1h-7zM124 395h7v1h-7zM134 395h7v1h-7zM144 395h7v1h-7zM154 395h7v1h-7zM164 395h7v1h-7zM174 395h7v1h-7zM184 395h7v1h-7zM194 395h7v1h-7zM204 395h7v1h-7zM214 395h7v1h-7zM224 395h7v1h-7zM234 395h7v1h-7zM244 395h7v1h-7zM254 395h7v1h-7zM264 395h7v1h-7zM274 395h7v1h-7zM284 395h7v1h-7zM294 395h7v1h-7zM304 395h7v1h-7zM314 395h7v1h-7zM324 395h7v1h-7zM334 395h7v1h-7zM344 395h7v1h-7zM354 395h7v1h-7zM364 395h7v1h-7zM374 395h7v1h-7zM384 395h7v1h-7zM394 395h7v1h-7zM404 395h7v1h-7zM414 395h7v1h-7zM424 395h7v1h-7zM434 395h7v1h-7zM444 395h7v1h-7zM454 395h7v1h-7zM464 395h7v1h-7zM474 395h7v1h-7zM484 395h7v1h-7zM494 395h7v1h-7zM504 395h7v1h-7zM514 395h7v1h-7zM524 395h7v1h-7zM534 395h7v1h-7zM544 395h7v1h-7zM554 395h7v1h-7zM564 395h7v1h-7zM574 395h7v1h-7zM584 395h7v1h-7zM594 395h7v1h-7zM604 395h7v1h-7zM614 395h7v1h-7zM624 395h7v1h-7zM634 395h7v1h-7zM644 395h7v1h-7zM654 395h7v1h-7zM664 395h7v1h-7zM674 395h7v1h-7zM684 395h7v1h-7zM694 395h7v1h-7zM704 395h7v1h-7zM714 395h7v1h-7zM724 395h7v1h-7zM734 395h7v1h-7zM744 395h7v1h-7zM754 395h7v1h-7zM764 395h7v1h-7zM774 395h7v1h-7zM784 395h7v1h-7zM794 395h7v1h-7zM804 395h7v1h-7zM814 395h7v1h-7zM824 395h7v1h-7zM834 395h7v1h-7zM844 395h7v1h-7zM854 395h7v1h-7zM864 395h7v1h-7zM874 395h7v1h-7zM884 395h7v1h-7zM894 395h7v1h-7zM904 395h7v1h-7zM914 395h7v1h-7zM924 395h7v1h-7zM934 395h7v1h-7zM944 395h7v1h-7zM954 395h7v1h-7zM964 395h7v1h-7zM974 395h7v1h-7zM984 395h7v1h-7zM994 395h7v1h-7zM1004 395h7v1h-7zM1014 395h7v1h-7zM1024 395h7v1h-7zM1034 395h7v1h-7zM1044 395h7v1h-7zM1054 395h7v1h-7zM1064 395h7v1h-7zM1074 395h7v1h-7zM1084 395h7v1h-7zM1094 395h7v1h-7zM1104 395h7v1h-7zM1114 395h7v1h-7zM1124 395h7v1h-7zM1134 395h7v1h-7zM1144 395h7v1h-7zM1154 395h7v1h-7zM1164 395h7v1h-7zM1174 395h7v1h-7zM1184 395h7v1h-7zM1194 395h7v1h-7zM1204 395h7v1h-7zM1214 395h7v1h-7zM1224 395h7v1h-7zM1234 395h7v1h-7zM1244 395h7v1h-7zM1254 395h7v1h-7zM1264 395h7v1h-7zM1274 395h7v1h-7zM1284 395h7v1h-7zM1294 395h7v1h-7zM1304 395h7v1h-7zM1314 395h7v1h-7zM1324 395h7v1h-7zM1334 395h7v1h-7zM1344 395h7v1h-7zM1354 395h7v1h-7zM1364 395h7v1h-7zM1374 395h7v1h-7zM1384 395h7v1h-7zM1394 395h7v1h-7zM1404 395h7v1h-7zM1414 395h7v1h-7zM1424 395h7v1h-7zM1434 395h7v1h-7zM1444 395h7v1h-7zM1454 395h7v1h-7zM1464 395h3v1h-3z" fill="#000"/>
<path d="M4 436h7v1h-7zM14 436h7v1h-7zM24 436h7v1h-7zM34 436h7v1h-7zM44 436h7v1h-7zM54 436h7v1h-7zM64 436h7v1h-7zM74 436h7v1h-7zM84 436h7v1h-7zM94 436h7v1h-7zM104 436h7v1h-7zM114 436h7v1h-7zM124 436h7v1h-7zM134 436h7v1h-7zM144 436h7v1h-7zM154 436h7v1h-7zM164 436h7v1h-7zM174 436h7v1h-7zM184 436h7v1h-7zM194 436h7v1h-7zM204 436h7v1h-7zM214 436h7v1h-7zM224 436h7v1h-7zM234 436h7v1h-7zM244 436h7v1h-7zM254 436h7v1h-7zM264 436h7v1h-7zM274 436h7v1h-7zM284 436h7v1h-7zM294 436h7v1h-7zM304 436h7v1h-7zM314 436h7v1h-7zM324 436h7v1h-7zM334 436h7v1h-7zM344 436h7v1h-7zM354 436h7v1h-7zM364 436h7v1h-7zM374 436h7v1h-7zM384 436h7v1h-7zM394 436h7v1h-7zM404 436h7v1h-7zM414 436h7v1h-7zM424 436h7v1h-7zM434 436h7v1h-7zM444 436h7v1h-7zM454 436h7v1h-7zM464 436h7v1h-7zM474 436h7v1h-7zM484 436h7v1h-7zM494 436h7v1h-7zM504 436h7v1h-7zM514 436h7v1h-7zM524 436h7v1h-7zM534 436h7v1h-7zM544 436h7v1h-7zM554 436h7v1h-7zM564 436h7v1h-7zM574 436h7v1h-7zM584 436h7v1h-7zM594 436h7v1h-7zM604 436h7v1h-7zM614 436h7v1h-7zM624 436h7v1h-7zM634 436h7v1h-7zM644 436h7v1h-7zM654 436h7v1h-7zM664 436h7v1h-7zM674 436h7v1h-7zM684 436h7v1h-7zM694 436h7v1h-7zM704 436h7v1h-7zM714 436h7v1h-7zM724 436h7v1h-7zM734 436h7v1h-7zM744 436h7v1h-7zM754 436h7v1h-7zM764 436h7v1h-7zM774 436h7v1h-7zM784 436h7v1h-7zM794 436h7v1h-7zM804 436h7v1h-7zM814 436h7v1h-7zM824 436h7v1h-7zM834 436h7v1h-7zM844 436h7v1h-7zM854 436h7v1h-7zM864 436h7v1h-7zM874 436h7v1h-7zM884 436h7v1h-7zM894 436h7v1h-7zM904 436h7v1h-7zM914 436h7v1h-7zM924 436h7v1h-7zM934 436h7v1h-7zM944 436h7v1h-7zM954 436h7v1h-7zM964 436h7v1h-7zM974 436h7v1h-7zM984 436h7v1h-7zM994 436h7v1h-7zM1004 436h7v1h-7zM1014 436h7v1h-7zM1024 436h7v1h-7zM1034 436h7v1h-7zM1044 436h7v1h-7zM1054 436h7v1h-7zM1064 436h7v1h-7zM1074 436h7v1h-7zM1084 436h7v1h-7zM1094 436h7v1h-7zM1104 436h7v1h-7zM1114 436h7v1h-7zM1124 436h7v1h-7zM1134 436h7v1h-7zM1144 436h7v1h-7zM1154 436h7v1h-7zM1164 436h7v1h-7zM1174 436h7v1h-7zM1184 436h7v1h-7zM1194 436h7v1h-7zM1204 436h7v1h-7zM1214 436h7v1h-7zM1224 436h7v1h-7zM1234 436h7v1h-7zM1244 436h7v1h-7zM1254 436h7v1h-7zM1264 436h7v1h-7zM1274 436h7v1h-7zM1284 436h7v1h-7zM1294 436h7v1h-7zM1304 436h7v1h-7zM1314 436h7v1h-7zM1324 436h7v1h-7zM1334 436h7v1h-7zM1344 436h7v1h-7zM1354 436h7v1h-7zM1364 436h7v1h-7zM1374 436h7v1h-7zM1384 436h7v1h-7zM1394 436h7v1h-7zM1404 436h7v1h-7zM1414 436h7v1h-7zM1424 436h7v1h-7zM1434 436h7v1h-7zM1444 436h7v1h-7zM1454 436h7v1h-7zM1464 436h3v1h-3z" fill="#000"/>
<path d="M4 477h7v1h-7zM14 477h7v1h-7zM24 477h7v1h-7zM34 477h7v1h-7zM44 477h7v1h-7zM54 477h7v1h-7zM64 477h7v1h-7zM74 477h7v1h-7zM84 477h7v1h-7zM94 477h7v1h-7zM104 477h7v1h-7zM114 477h7v1h-7zM124 477h7v1h-7zM134 477h7v1h-7zM144 477h7v1h-7zM154 477h7v1h-7zM164 477h7v1h-7zM174 477h7v1h-7zM184 477h7v1h-7zM194 477h7v1h-7zM204 477h7v1h-7zM214 477h7v1h-7zM224 477h7v1h-7zM234 477h7v1h-7zM244 477h7v1h-7zM254 477h7v1h-7zM264 477h7v1h-7zM274 477h7v1h-7zM284 477h7v1h-7zM294 477h7v1h-7zM304 477h7v1h-7zM314 477h7v1h-7zM324 477h7v1h-7zM334 477h7v1h-7zM344 477h7v1h-7zM354 477h7v1h-7zM364 477h7v1h-7zM374 477h7v1h-7zM384 477h7v1h-7zM394 477h7v1h-7zM404 477h7v1h-7zM414 477h7v1h-7zM424 477h7v1h-7zM434 477h7v1h-7zM444 477h7v1h-7zM454 477h7v1h-7zM464 477h7v1h-7zM474 477h7v1h-7zM484 477h7v1h-7zM494 477h7v1h-7zM504 477h7v1h-7zM514 477h7v1h-7zM524 477h7v1h-7zM534 477h7v1h-7zM544 477h7v1h-7zM554 477h7v1h-7zM564 477h7v1h-7zM574 477h7v1h-7zM584 477h7v1h-7zM594 477h7v1h-7zM604 477h7v1h-7zM614 477h7v1h-7zM624 477h7v1h-7zM634 477h7v1h-7zM644 477h7v1h-7zM654 477h7v1h-7zM664 477h7v1h-7zM674 477h7v1h-7zM684 477h7v1h-7zM694 477h7v1h-7zM704 477h7v1h-7zM714 477h7v1h-7zM724 477h7v1h-7zM734 477h7v1h-7zM744 477h7v1h-7zM754 477h7v1h-7zM764 477h7v1h-7zM774 477h7v1h-7zM784 477h7v1h-7zM794 477h7v1h-7zM804 477h7v1h-7zM814 477h7v1h-7zM824 477h7v1h-7zM834 477h7v1h-7zM844 477h7v1h-7zM854 477h7v1h-7zM864 477h7v1h-7zM874 477h7v1h-7zM884 477h7v1h-7zM894 477h7v1h-7zM904 477h7v1h-7zM914 477h7v1h-7zM924 477h7v1h-7zM934 477h7v1h-7zM944 477h7v1h-7zM954 477h7v1h-7zM964 477h7v1h-7zM974 477h7v1h-7zM984 477h7v1h-7zM994 477h7v1h-7zM1004 477h7v1h-7zM1014 477h7v1h-7zM1024 477h7v1h-7zM1034 477h7v1h-7zM1044 477h7v1h-7zM1054 477h7v1h-7zM1064 477h7v1h-7zM1074 477h7v1h-7zM1084 477h7v1h-7zM1094 477h7v1h-7zM1104 477h7v1h-7zM1114 477h7v1h-7zM1124 477h7v1h-7zM1134 477h7v1h-7zM1144 477h7v1h-7zM1154 477h7v1h-7zM1164 477h7v1h-7zM1174 477h7v1h-7zM1184 477h7v1h-7zM1194 477h7v1h-7zM1204 477h7v1h-7zM1214 477h7v1h-7zM1224 477h7v1h-7zM1234 477h7v1h-7zM1244 477h7v1h-7zM1254 477h7v1h-7zM1264 477h7v1h-7zM1274 477h7v1h-7zM1284 477h7v1h-7zM1294 477h7v1h-7zM1304 477h7v1h-7zM1314 477h7v1h-7zM1324 477h7v1h-7zM1334 477h7v1h-7zM1344 477h7v1h-7zM1354 477h7v1h-7zM1364 477h7v1h-7zM1374 477h7v1h-7zM1384 477h7v1h-7zM1394 477h7v1h-7zM1404 477h7v1h-7zM1414 477h7v1h-7zM1424 477h7v1h-7zM1434 477h7v1h-7zM1444 477h7v1h-7zM1454 477h7v1h-7zM1464 477h3v1h-3z" fill="#000"/>
<path d="M4 509h7v1h-7zM14 509h7v1h-7zM24 509h7v1h-7zM34 509h7v1h-7zM44 509h7v1h-7zM54 509h7v1h-7zM64 509h7v1h-7zM74 509h7v1h-7zM84 509h7v1h-7zM94 509h7v1h-7zM104 509h7v1h-7zM114 509h7v1h-7zM124 509h7v1h-7zM134 509h7v1h-7zM144 509h7v1h-7zM154 509h7v1h-7zM164 509h7v1h-7zM174 509h7v1h-7zM184 509h7v1h-7zM194 509h7v1h-7zM204 509h7v1h-7zM214 509h7v1h-7zM224 509h7v1h-7zM234 509h7v1h-7zM244 509h7v1h-7zM254 509h7v1h-7zM264 509h7v1h-7zM274 509h7v1h-7zM284 509h7v1h-7zM294 509h7v1h-7zM304 509h7v1h-7zM314 509h7v1h-7zM324 509h7v1h-7zM334 509h7v1h-7zM344 509h7v1h-7zM354 509h7v1h-7zM364 509h7v1h-7zM374 509h7v1h-7zM384 509h7v1h-7zM394 509h7v1h-7zM404 509h7v1h-7zM414 509h7v1h-7zM424 509h7v1h-7zM434 509h7v1h-7zM444 509h7v1h-7zM454 509h7v1h-7zM464 509h7v1h-7zM474 509h7v1h-7zM484 509h7v1h-7zM494 509h7v1h-7zM504 509h7v1h-7zM514 509h7v1h-7zM524 509h7v1h-7zM534 509h7v1h-7zM544 509h7v1h-7zM554 509h7v1h-7zM564 509h7v1h-7zM574 509h7v1h-7zM584 509h7v1h-7zM594 509h7v1h-7zM604 509h7v1h-7zM614 509h7v1h-7zM624 509h7v1h-7zM634 509h7v1h-7zM644 509h7v1h-7zM654 509h7v1h-7zM664 509h7v1h-7zM674 509h7v1h-7zM684 509h7v1h-7zM694 509h7v1h-7zM704 509h7v1h-7zM714 509h7v1h-7zM724 509h7v1h-7zM734 509h7v1h-7zM744 509h7v1h-7zM754 509h7v1h-7zM764 509h7v1h-7zM774 509h7v1h-7zM784 509h7v1h-7zM794 509h7v1h-7zM804 509h7v1h-7zM814 509h7v1h-7zM824 509h7v1h-7zM834 509h7v1h-7zM844 509h7v1h-7zM854 509h7v1h-7zM864 509h7v1h-7zM874 509h7v1h-7zM884 509h7v1h-7zM894 509h7v1h-7zM904 509h7v1h-7zM914 509h7v1h-7zM924 509h7v1h-7zM934 509h7v1h-7zM944 509h7v1h-7zM954 509h7v1h-7zM964 509h7v1h-7zM974 509h7v1h-7zM984 509h7v1h-7zM994 509h7v1h-7zM1004 509h7v1h-7zM1014 509h7v1h-7zM1024 509h7v1h-7zM1034 509h7v1h-7zM1044 509h7v1h-7zM1054 509h7v1h-7zM1064 509h7v1h-7zM1074 509h7v1h-7zM1084 509h7v1h-7zM1094 509h7v1h-7zM1104 509h7v1h-7zM1114 509h7v1h-7zM1124 509h7v1h-7zM1134 509h7v1h-7zM1144 509h7v1h-7zM1154 509h7v1h-7zM1164 509h7v1h-7zM1174 509h7v1h-7zM1184 509h7v1h-7zM1194 509h7v1h-7zM1204 509h7v1h-7zM1214 509h7v1h-7zM1224 509h7v1h-7zM1234 509h7v1h-7zM1244 509h7v1h-7zM1254 509h7v1h-7zM1264 509h7v1h-7zM1274 509h7v1h-7zM1284 509h7v1h-7zM1294 509h7v1h-7zM1304 509h7v1h-7zM1314 509h7v1h-7zM1324 509h7v1h-7zM1334 509h7v1h-7zM1344 509h7v1h-7zM1354 509h7v1h-7zM1364 509h7v1h-7zM1374 509h7v1h-7zM1384 509h7v1h-7zM1394 509h7v1h-7zM1404 509h7v1h-7zM1414 509h7v1h-7zM1424 509h7v1h-7zM1434 509h7v1h-7zM1444 509h7v1h-7zM1454 509h7v1h-7zM1464 509h3v1h-3z" fill="#000"/>
<path d="M4 560h7v1h-7zM14 560h7v1h-7zM24 560h7v1h-7zM34 560h7v1h-7zM44 560h7v1h-7zM54 560h7v1h-7zM64 560h7v1h-7zM74 560h7v1h-7zM84 560h7v1h-7zM94 560h7v1h-7zM104 560h7v1h-7zM114 560h7v1h-7zM124 560h7v1h-7zM134 560h7v1h-7zM144 560h7v1h-7zM154 560h7v1h-7zM164 560h7v1h-7zM174 560h7v1h-7zM184 560h7v1h-7zM194 560h7v1h-7zM204 560h7v1h-7zM214 560h7v1h-7zM224 560h7v1h-7zM234 560h7v1h-7zM244 560h7v1h-7zM254 560h7v1h-7zM264 560h7v1h-7zM274 560h7v1h-7zM284 560h7v1h-7zM294 560h7v1h-7zM304 560h7v1h-7zM314 560h7v1h-7zM324 560h7v1h-7zM334 560h7v1h-7zM344 560h7v1h-7zM354 560h7v1h-7zM364 560h7v1h-7zM374 560h7v1h-7zM384 560h7v1h-7zM394 560h7v1h-7zM404 560h7v1h-7zM414 560h7v1h-7zM424 560h7v1h-7zM434 560h7v1h-7zM444 560h7v1h-7zM454 560h7v1h-7zM464 560h7v1h-7zM474 560h7v1h-7zM484 560h7v1h-7zM494 560h7v1h-7zM504 560h7v1h-7zM514 560h7v1h-7zM524 560h7v1h-7zM534 560h7v1h-7zM544 560h7v1h-7zM554 560h7v1h-7zM564 560h7v1h-7zM574 560h7v1h-7zM584 560h7v1h-7zM594 560h7v1h-7zM604 560h7v1h-7zM614 560h7v1h-7zM624 560h7v1h-7zM634 560h7v1h-7zM644 560h7v1h-7zM654 560h7v1h-7zM664 560h7v1h-7zM674 560h7v1h-7zM684 560h7v1h-7zM694 560h7v1h-7zM704 560h7v1h-7zM714 560h7v1h-7zM724 560h7v1h-7zM734 560h7v1h-7zM744 560h7v1h-7zM754 560h7v1h-7zM764 560h7v1h-7zM774 560h7v1h-7zM784 560h7v1h-7zM794 560h7v1h-7zM804 560h7v1h-7zM814 560h7v1h-7zM824 560h7v1h-7zM834 560h7v1h-7zM844 560h7v1h-7zM854 560h7v1h-7zM864 560h7v1h-7zM874 560h7v1h-7zM884 560h7v1h-7zM894 560h7v1h-7zM904 560h7v1h-7zM914 560h7v1h-7zM924 560h7v1h-7zM934 560h7v1h-7zM944 560h7v1h-7zM954 560h7v1h-7zM964 560h7v1h-7zM974 560h7v1h-7zM984 560h7v1h-7zM994 560h7v1h-7zM1004 560h7v1h-7zM1014 560h7v1h-7zM1024 560h7v1h-7zM1034 560h7v1h-7zM1044 560h7v1h-7zM1054 560h7v1h-7zM1064 560h7v1h-7zM1074 560h7v1h-7zM1084 560h7v1h-7zM1094 560h7v1h-7zM1104 560h7v1h-7zM1114 560h7v1h-7zM1124 560h7v1h-7zM1134 560h7v1h-7zM1144 560h7v1h-7zM1154 560h7v1h-7zM1164 560h7v1h-7zM1174 560h7v1h-7zM1184 560h7v1h-7zM1194 560h7v1h-7zM1204 560h7v1h-7zM1214 560h7v1h-7zM1224 560h7v1h-7zM1234 560h7v1h-7zM1244 560h7v1h-7zM1254 560h7v1h-7zM1264 560h7v1h-7zM1274 560h7v1h-7zM1284 560h7v1h-7zM1294 560h7v1h-7zM1304 560h7v1h-7zM1314 560h7v1h-7zM1324 560h7v1h-7zM1334 560h7v1h-7zM1344 560h7v1h-7zM1354 560h7v1h-7zM1364 560h7v1h-7zM1374 560h7v1h-7zM1384 560h7v1h-7zM1394 560h7v1h-7zM1404 560h7v1h-7zM1414 560h7v1h-7zM1424 560h7v1h-7zM1434 560h7v1h-7zM1444 560h7v1h-7zM1454 560h7v1h-7zM1464 560h3v1h-3z" fill="#000"/>
<path d="M4 582h7v1h-7zM14 582h7v1h-7zM24 582h7v1h-7zM34 582h7v1h-7zM44 582h7v1h-7zM54 582h7v1h-7zM64 582h7v1h-7zM74 582h7v1h-7zM84 582h7v1h-7zM94 582h7v1h-7zM104 582h7v1h-7zM114 582h7v1h-7zM124 582h7v1h-7zM134 582h7v1h-7zM144 582h7v1h-7zM154 582h7v1h-7zM164 582h7v1h-7zM174 582h7v1h-7zM184 582h7v1h-7zM194 582h7v1h-7zM204 582h7v1h-7zM214 582h7v1h-7zM224 582h7v1h-7zM234 582h7v1h-7zM244 582h7v1h-7zM254 582h7v1h-7zM264 582h7v1h-7zM274 582h7v1h-7zM284 582h7v1h-7zM294 582h7v1h-7zM304 582h7v1h-7zM314 582h7v1h-7zM324 582h7v1h-7zM334 582h7v1h-7zM344 582h7v1h-7zM354 582h7v1h-7zM364 582h7v1h-7zM374 582h7v1h-7zM384 582h7v1h-7zM394 582h7v1h-7zM404 582h7v1h-7zM414 582h7v1h-7zM424 582h7v1h-7zM434 582h7v1h-7zM444 582h7v1h-7zM454 582h7v1h-7zM464 582h7v1h-7zM474 582h7v1h-7zM484 582h7v1h-7zM494 582h7v1h-7zM504 582h7v1h-7zM514 582h7v1h-7zM524 582h7v1h-7zM534 582h7v1h-7zM544 582h7v1h-7zM554 582h7v1h-7zM564 582h7v1h-7zM574 582h7v1h-7zM584 582h7v1h-7zM594 582h7v1h-7zM604 582h7v1h-7zM614 582h7v1h-7zM624 582h7v1h-7zM634 582h7v1h-7zM644 582h7v1h-7zM654 582h7v1h-7zM664 582h7v1h-7zM674 582h7v1h-7zM684 582h7v1h-7zM694 582h7v1h-7zM704 582h7v1h-7zM714 582h7v1h-7zM724 582h7v1h-7zM734 582h7v1h-7zM744 582h7v1h-7zM754 582h7v1h-7zM764 582h7v1h-7zM774 582h7v1h-7zM784 582h7v1h-7zM794 582h7v1h-7zM804 582h7v1h-7zM814 582h7v1h-7zM824 582h7v1h-7zM834 582h7v1h-7zM844 582h7v1h-7zM854 582h7v1h-7zM864 582h7v1h-7zM874 582h7v1h-7zM884 582h7v1h-7zM894 582h7v1h-7zM904 582h7v1h-7zM914 582h7v1h-7zM924 582h7v1h-7zM934 582h7v1h-7zM944 582h7v1h-7zM954 582h7v1h-7zM964 582h7v1h-7zM974 582h7v1h-7zM984 582h7v1h-7zM994 582h7v1h-7zM1004 582h7v1h-7zM1014 582h7v1h-7zM1024 582h7v1h-7zM1034 582h7v1h-7zM1044 582h7v1h-7zM1054 582h7v1h-7zM1064 582h7v1h-7zM1074 582h7v1h-7zM1084 582h7v1h-7zM1094 582h7v1h-7zM1104 582h7v1h-7zM1114 582h7v1h-7zM1124 582h7v1h-7zM1134 582h7v1h-7zM1144 582h7v1h-7zM1154 582h7v1h-7zM1164 582h7v1h-7zM1174 582h7v1h-7zM1184 582h7v1h-7zM1194 582h7v1h-7zM1204 582h7v1h-7zM1214 582h7v1h-7zM1224 582h7v1h-7zM1234 582h7v1h-7zM1244 582h7v1h-7zM1254 582h7v1h-7zM1264 582h7v1h-7zM1274 582h7v1h-7zM1284 582h7v1h-7zM1294 582h7v1h-7zM1304 582h7v1h-7zM1314 582h7v1h-7zM1324 582h7v1h-7zM1334 582h7v1h-7zM1344 582h7v1h-7zM1354 582h7v1h-7zM1364 582h7v1h-7zM1374 582h7v1h-7zM1384 582h7v1h-7zM1394 582h7v1h-7zM1404 582h7v1h-7zM1414 582h7v1h-7zM1424 582h7v1h-7zM1434 582h7v1h-7zM1444 582h7v1h-7zM1454 582h7v1h-7zM1464 582h3v1h-3z" fill="#000"/>
</g>
<path fill="#000" fill-rule="evenodd" d="M4.00 371h4v19h-4z M8.43 392h4v6h-4z M13.62 402h4v13h-4z M18.80 414h4v49h-4z M23.98 467h4v47h-4z M29.17 512h4v20h-4z M34.35 500h4v23h-4z M35.35 501v21h2v-21z M39.53 493h4v18h-4z M44.72 509h4v1h-4z M49.90 497h4v12h-4z M50.90 498v10h2v-10z M55.09 496h4v25h-4z M60.27 518h4v17h-4z M65.45 534h4v27h-4z M70.64 538h4v22h-4z M71.64 539v20h2v-20z M75.82 523h4v15h-4z M76.82 524v13h2v-13z M81.00 516h4v8h-4z M82.00 517v6h2v-6z M86.19 513h4v35h-4z M91.37 547h4v21h-4z M96.55 541h4v23h-4z M97.55 542v21h2v-21z M101.74 538h4v22h-4z M106.92 536h4v14h-4z M107.92 537v12h2v-12z M112.10 530h4v10h-4z M113.10 531v8h2v-8z M117.29 525h4v1h-4z M122.47 515h4v7h-4z M123.47 516v5h2v-5z M127.65 515h4v21h-4z M132.84 533h4v1h-4z M138.02 537h4v31h-4z M143.20 560h4v14h-4z M148.39 538h4v31h-4z M149.39 539v29h2v-29z M153.57 525h4v10h-4z M154.57 526v8h2v-8z M158.76 488h4v38h-4z M159.76 489v36h2v-36z M163.94 474h4v9h-4z M164.94 475v7h2v-7z M169.12 478h4v4h-4z M174.31 472h4v14h-4z M175.31 473v12h2v-12z M179.49 452h4v9h-4z M180.49 453v7h2v-7z M184.67 448h4v8h-4z M189.86 452h4v4h-4z M195.04 451h4v29h-4z M200.22 475h4v36h-4z M205.41 460h4v43h-4z M206.41 461v41h2v-41z M210.59 433h4v25h-4z M211.59 434v23h2v-23z M215.77 417h4v5h-4z M216.77 418v3h2v-3z M220.96 417h4v2h-4z M226.14 405h4v14h-4z M231.32 418h4v1h-4z M236.51 417h4v1h-4z M241.69 413h4v11h-4z M242.69 414v9h2v-9z M246.87 391h4v16h-4z M247.87 392v14h2v-14z M252.06 382h4v4h-4z M253.06 383v2h2v-2z M257.24 374h4v3h-4z M258.24 375v1h2v-1z M262.43 352h4v3h-4z M263.43 353v1h2v-1z M267.61 325h4v12h-4z M268.61 326v10h2v-10z M272.79 325h4v24h-4z M277.98 344h4v11h-4z M283.16 347h4v8h-4z M288.34 346h4v13h-4z M289.34 347v11h2v-11z M293.53 342h4v22h-4z M298.71 362h4v1h-4z M303.89 363h4v14h-4z M309.08 387h4v13h-4z M314.26 395h4v11h-4z M319.44 401h4v20h-4z M324.63 414h4v5h-4z M325.63 415v3h2v-3z M329.81 377h4v10h-4z M330.81 378v8h2v-8z M334.99 370h4v2h-4z M340.18 360h4v10h-4z M341.18 361v8h2v-8z M345.36 358h4v23h-4z M350.54 386h4v4h-4z M355.73 371h4v14h-4z M356.73 372v12h2v-12z M360.91 353h4v12h-4z M361.91 354v10h2v-10z M366.10 347h4v4h-4z M371.28 352h4v16h-4z M376.46 370h4v11h-4z M381.65 365h4v9h-4z M382.65 366v7h2v-7z M386.83 362h4v15h-4z M392.01 379h4v25h-4z M397.20 397h4v9h-4z M402.38 403h4v1h-4z M407.56 384h4v3h-4z M408.56 385v1h2v-1z M412.75 367h4v14h-4z M413.75 368v12h2v-12z M417.93 358h4v1h-4z M423.11 363h4v1h-4z M428.30 348h4v13h-4z M429.30 349v11h2v-11z M433.48 342h4v4h-4z M438.66 345h4v2h-4z M443.85 359h4v5h-4z M449.03 346h4v12h-4z M450.03 347v10h2v-10z M454.21 343h4v9h-4z M459.40 350h4v1h-4z M464.58 348h4v16h-4z M469.77 376h4v22h-4z M474.95 391h4v2h-4z M480.13 391h4v16h-4z M485.32 389h4v7h-4z M486.32 390v5h2v-5z M490.50 372h4v16h-4z M491.50 373v14h2v-14z M495.68 370h4v18h-4z M500.87 383h4v13h-4z M501.87 384v11h2v-11z M506.05 380h4v17h-4z M511.23 377h4v9h-4z M512.23 378v7h2v-7z M516.42 375h4v7h-4z M521.60 381h4v8h-4z M526.78 377h4v12h-4z M527.78 378v10h2v-10z M531.97 376h4v24h-4z M537.15 394h4v6h-4z M538.15 395v4h2v-4z M542.33 392h4v33h-4z M547.52 410h4v18h-4z M552.70 428h4v19h-4z M557.88 429h4v15h-4z M558.88 430v13h2v-13z M563.07 404h4v26h-4z M564.07 405v24h2v-24z M568.25 410h4v6h-4z M573.44 378h4v24h-4z M574.44 379v22h2v-22z M578.62 379h4v1h-4z M583.80 335h4v31h-4z M584.80 336v29h2v-29z M588.99 294h4v28h-4z M589.99 295v26h2v-26z M594.17 288h4v6h-4z M595.17 289v4h2v-4z M599.35 291h4v9h-4z M604.54 298h4v3h-4z M605.54 299v1h2v-1z M609.72 276h4v12h-4z M610.72 277v10h2v-10z M614.90 254h4v14h-4z M615.90 255v12h2v-12z M620.09 236h4v10h-4z M621.09 237v8h2v-8z M625.27 232h4v1h-4z M630.45 237h4v5h-4z M635.64 356h4v29h-4z M640.82 389h4v4h-4z M646.00 401h4v108h-4z M651.19 471h4v19h-4z M652.19 472v17h2v-17z M656.37 408h4v37h-4z M657.37 409v35h2v-35z M661.55 418h4v4h-4z M662.55 419v2h2v-2z M666.74 398h4v25h-4z M671.92 416h4v13h-4z M672.92 417v11h2v-11z M677.11 424h4v12h-4z M682.29 436h4v6h-4z M687.47 441h4v17h-4z M692.66 454h4v44h-4z M693.66 455v42h2v-42z M697.84 432h4v11h-4z M703.02 455h4v19h-4z M708.21 428h4v36h-4z M713.39 458h4v5h-4z M714.39 459v3h2v-3z M718.57 447h4v5h-4z M723.76 449h4v7h-4z M728.94 460h4v16h-4z M734.12 456h4v18h-4z M735.12 457v16h2v-16z M739.31 451h4v17h-4z M744.49 464h4v3h-4z M749.67 459h4v10h-4z M754.86 442h4v20h-4z M755.86 443v18h2v-18z M760.04 439h4v12h-4z M765.22 447h4v22h-4z M770.41 475h4v7h-4z M775.59 482h4v22h-4z M780.78 491h4v6h-4z M781.78 492v4h2v-4z M785.96 483h4v16h-4z M791.14 496h4v3h-4z M792.14 497v1h2v-1z M796.33 495h4v10h-4z M801.51 474h4v23h-4z M802.51 475v21h2v-21z M806.69 457h4v16h-4z M807.69 458v14h2v-14z M811.88 402h4v21h-4z M812.88 403v19h2v-19z M817.06 407h4v3h-4z M822.24 409h4v1h-4z M827.43 405h4v29h-4z M832.61 414h4v19h-4z M833.61 415v17h2v-17z M837.79 415h4v23h-4z M842.98 441h4v14h-4z M848.16 445h4v3h-4z M849.16 446v1h2v-1z M853.34 446h4v16h-4z M858.53 452h4v11h-4z M863.71 464h4v20h-4z M868.89 484h4v5h-4z M874.08 480h4v10h-4z M879.26 492h4v21h-4z M884.45 514h4v1h-4z M889.63 474h4v30h-4z M890.63 475v28h2v-28z M894.81 444h4v30h-4z M895.81 445v28h2v-28z M900.00 442h4v6h-4z M901.00 443v4h2v-4z M905.18 416h4v15h-4z M906.18 417v13h2v-13z M910.36 412h4v4h-4z M911.36 413v2h2v-2z M915.55 423h4v13h-4z M920.73 469h4v21h-4z M921.73 470v19h2v-19z M925.91 463h4v6h-4z M926.91 464v4h2v-4z M931.10 463h4v2h-4z M936.28 469h4v17h-4z M941.46 480h4v21h-4z M946.65 485h4v1h-4z M951.83 495h4v3h-4z M952.83 496v1h2v-1z M957.01 448h4v3h-4z M958.01 449v1h2v-1z M962.20 444h4v7h-4z M967.38 452h4v18h-4z M972.56 455h4v14h-4z M973.56 456v12h2v-12z M977.75 372h4v75h-4z M978.75 373v73h2v-73z M982.93 352h4v16h-4z M983.93 353v14h2v-14z M988.12 335h4v13h-4z M989.12 336v11h2v-11z M993.30 316h4v13h-4z M998.48 322h4v4h-4z M999.48 323v2h2v-2z M1003.67 343h4v5h-4z M1008.85 338h4v26h-4z M1014.03 339h4v24h-4z M1015.03 340v22h2v-22z M1019.22 314h4v9h-4z M1020.22 315v7h2v-7z M1024.40 301h4v9h-4z M1029.58 309h4v21h-4z M1034.77 332h4v14h-4z M1039.95 308h4v26h-4z M1040.95 309v24h2v-24z M1045.13 306h4v1h-4z M1050.32 270h4v31h-4z M1051.32 271v29h2v-29z M1055.50 267h4v3h-4z M1060.68 266h4v8h-4z M1065.87 259h4v8h-4z M1066.87 260v6h2v-6z M1071.05 256h4v10h-4z M1076.23 262h4v19h-4z M1081.42 279h4v10h-4z M1086.60 270h4v18h-4z M1087.60 271v16h2v-16z M1091.79 251h4v13h-4z M1092.79 252v11h2v-11z M1096.97 249h4v2h-4z M1102.15 234h4v7h-4z M1103.15 235v5h2v-5z M1107.34 229h4v6h-4z M1112.52 228h4v3h-4z M1113.52 229v1h2v-1z M1117.70 219h4v3h-4z M1118.70 220v1h2v-1z M1122.89 216h4v1h-4z M1128.07 205h4v1h-4z M1133.25 205h4v13h-4z M1138.44 218h4v1h-4z M1143.62 226h4v12h-4z M1148.80 232h4v11h-4z M1149.80 233v9h2v-9z M1153.99 222h4v4h-4z M1154.99 223v2h2v-2z M1159.17 217h4v1h-4z M1164.35 191h4v26h-4z M1165.35 192v24h2v-24z M1169.54 164h4v17h-4z M1170.54 165v15h2v-15z M1174.72 155h4v4h-4z M1175.72 156v2h2v-2z M1179.90 140h4v1h-4z M1185.09 131h4v6h-4z M1186.09 132v4h2v-4z M1190.27 126h4v31h-4z M1195.46 152h4v4h-4z M1200.64 153h4v15h-4z M1205.82 165h4v4h-4z M1211.01 165h4v65h-4z M1216.19 230h4v22h-4z M1221.37 238h4v9h-4z M1222.37 239v7h2v-7z M1226.56 230h4v23h-4z M1231.74 277h4v19h-4z M1236.92 291h4v3h-4z M1237.92 292v1h2v-1z M1242.11 275h4v5h-4z M1243.11 276v3h2v-3z M1247.29 277h4v29h-4z M1252.47 307h4v1h-4z M1257.66 212h4v97h-4z M1258.66 213v95h2v-95z M1262.84 184h4v22h-4z M1263.84 185v20h2v-20z M1268.02 183h4v4h-4z M1273.21 177h4v27h-4z M1278.39 167h4v33h-4z M1279.39 168v31h2v-31z M1283.57 131h4v10h-4z M1288.76 157h4v4h-4z M1293.94 156h4v1h-4z M1299.12 144h4v11h-4z M1304.31 156h4v33h-4z M1309.49 195h4v9h-4z M1314.68 203h4v7h-4z M1319.86 178h4v34h-4z M1320.86 179v32h2v-32z M1325.04 178h4v21h-4z M1330.23 194h4v40h-4z M1335.41 229h4v23h-4z M1340.59 241h4v9h-4z M1341.59 242v7h2v-7z M1345.78 244h4v5h-4z M1350.96 234h4v19h-4z M1356.14 252h4v2h-4z M1361.33 275h4v5h-4z M1366.51 278h4v38h-4z M1371.69 294h4v15h-4z M1372.69 295v13h2v-13z M1376.88 297h4v11h-4z M1382.06 312h4v20h-4z M1387.24 290h4v36h-4z M1388.24 291v34h2v-34z M1392.43 291h4v1h-4z M1397.61 281h4v5h-4z M1398.61 282v3h2v-3z M1402.80 272h4v3h-4z M1403.80 273v1h2v-1z M1407.98 221h4v36h-4z M1408.98 222v34h2v-34z M1413.16 222h4v12h-4z M1418.35 232h4v1h-4z M1423.53 226h4v11h-4z M1428.71 216h4v17h-4z M1429.71 217v15h2v-15z M1433.90 203h4v5h-4z M1434.90 204v3h2v-3z"/>
<g shape-rendering="crispEdges" fill="#000">
<rect x="5" y="356" width="1" height="37"/><rect x="11" y="392" width="1" height="18"/><rect x="16" y="401" width="1" height="17"/><rect x="21" y="413" width="1" height="66"/><rect x="26" y="465" width="1" height="49"/><rect x="31" y="492" width="1" height="44"/><rect x="36" y="523" width="1" height="16"/><rect x="42" y="486" width="1" height="29"/><rect x="47" y="493" width="1" height="27"/><rect x="52" y="509" width="1" height="22"/><rect x="57" y="489" width="1" height="32"/><rect x="62" y="504" width="1" height="37"/><rect x="68" y="533" width="1" height="31"/><rect x="73" y="533" width="1" height="5"/><rect x="73" y="560" width="1" height="4"/><rect x="78" y="522" width="1" height="1"/><rect x="78" y="538" width="1" height="12"/><rect x="83" y="507" width="1" height="9"/><rect x="83" y="524" width="1" height="3"/><rect x="88" y="506" width="1" height="42"/><rect x="93" y="546" width="1" height="24"/><rect x="99" y="529" width="1" height="12"/><rect x="104" y="536" width="1" height="31"/><rect x="109" y="528" width="1" height="8"/><rect x="114" y="528" width="1" height="2"/><rect x="114" y="540" width="1" height="9"/><rect x="119" y="523" width="1" height="6"/><rect x="125" y="509" width="1" height="6"/><rect x="125" y="522" width="1" height="6"/><rect x="130" y="509" width="1" height="31"/><rect x="135" y="519" width="1" height="20"/><rect x="140" y="537" width="1" height="39"/><rect x="145" y="557" width="1" height="25"/><rect x="150" y="530" width="1" height="8"/><rect x="150" y="569" width="1" height="10"/><rect x="156" y="535" width="1" height="11"/><rect x="161" y="486" width="1" height="2"/><rect x="161" y="526" width="1" height="1"/><rect x="166" y="466" width="1" height="8"/><rect x="166" y="483" width="1" height="3"/><rect x="171" y="472" width="1" height="16"/><rect x="176" y="453" width="1" height="19"/><rect x="176" y="486" width="1" height="11"/><rect x="182" y="450" width="1" height="2"/><rect x="182" y="461" width="1" height="4"/><rect x="187" y="440" width="1" height="19"/><rect x="192" y="448" width="1" height="19"/><rect x="197" y="449" width="1" height="41"/><rect x="202" y="470" width="1" height="42"/><rect x="208" y="458" width="1" height="2"/><rect x="208" y="503" width="1" height="3"/><rect x="213" y="458" width="1" height="7"/><rect x="218" y="407" width="1" height="10"/><rect x="218" y="422" width="1" height="4"/><rect x="223" y="411" width="1" height="17"/><rect x="228" y="403" width="1" height="19"/><rect x="233" y="414" width="1" height="13"/><rect x="239" y="404" width="1" height="25"/><rect x="244" y="409" width="1" height="4"/><rect x="244" y="424" width="1" height="5"/><rect x="249" y="381" width="1" height="10"/><rect x="249" y="407" width="1" height="9"/><rect x="254" y="373" width="1" height="9"/><rect x="259" y="369" width="1" height="5"/><rect x="259" y="377" width="1" height="10"/><rect x="265" y="349" width="1" height="3"/><rect x="265" y="355" width="1" height="8"/><rect x="270" y="324" width="1" height="1"/><rect x="270" y="337" width="1" height="4"/><rect x="275" y="322" width="1" height="30"/><rect x="280" y="338" width="1" height="25"/><rect x="285" y="340" width="1" height="20"/><rect x="290" y="345" width="1" height="1"/><rect x="290" y="359" width="1" height="11"/><rect x="296" y="340" width="1" height="24"/><rect x="301" y="355" width="1" height="22"/><rect x="306" y="356" width="1" height="21"/><rect x="311" y="380" width="1" height="21"/><rect x="316" y="392" width="1" height="18"/><rect x="322" y="398" width="1" height="24"/><rect x="327" y="411" width="1" height="3"/><rect x="327" y="419" width="1" height="12"/><rect x="332" y="374" width="1" height="3"/><rect x="332" y="387" width="1" height="3"/><rect x="337" y="356" width="1" height="25"/><rect x="342" y="356" width="1" height="4"/><rect x="342" y="370" width="1" height="1"/><rect x="347" y="355" width="1" height="26"/><rect x="353" y="373" width="1" height="25"/><rect x="358" y="370" width="1" height="1"/><rect x="358" y="385" width="1" height="5"/><rect x="363" y="349" width="1" height="4"/><rect x="368" y="340" width="1" height="14"/><rect x="373" y="350" width="1" height="18"/><rect x="379" y="362" width="1" height="20"/><rect x="384" y="362" width="1" height="3"/><rect x="384" y="374" width="1" height="5"/><rect x="389" y="358" width="1" height="26"/><rect x="394" y="377" width="1" height="32"/><rect x="399" y="387" width="1" height="26"/><rect x="404" y="397" width="1" height="19"/><rect x="410" y="383" width="1" height="1"/><rect x="410" y="387" width="1" height="17"/><rect x="415" y="366" width="1" height="1"/><rect x="415" y="381" width="1" height="6"/><rect x="420" y="356" width="1" height="20"/><rect x="425" y="353" width="1" height="16"/><rect x="430" y="346" width="1" height="2"/><rect x="430" y="361" width="1" height="5"/><rect x="436" y="341" width="1" height="12"/><rect x="441" y="344" width="1" height="10"/><rect x="446" y="353" width="1" height="16"/><rect x="451" y="344" width="1" height="2"/><rect x="451" y="358" width="1" height="9"/><rect x="456" y="337" width="1" height="15"/><rect x="461" y="340" width="1" height="13"/><rect x="467" y="346" width="1" height="20"/><rect x="472" y="376" width="1" height="26"/><rect x="477" y="378" width="1" height="19"/><rect x="482" y="390" width="1" height="32"/><rect x="487" y="384" width="1" height="5"/><rect x="487" y="396" width="1" height="1"/><rect x="493" y="370" width="1" height="2"/><rect x="493" y="388" width="1" height="6"/><rect x="498" y="367" width="1" height="22"/><rect x="503" y="381" width="1" height="2"/><rect x="508" y="378" width="1" height="23"/><rect x="513" y="374" width="1" height="3"/><rect x="513" y="386" width="1" height="1"/><rect x="519" y="371" width="1" height="15"/><rect x="524" y="380" width="1" height="9"/><rect x="529" y="373" width="1" height="4"/><rect x="529" y="389" width="1" height="4"/><rect x="534" y="371" width="1" height="30"/><rect x="539" y="386" width="1" height="8"/><rect x="539" y="400" width="1" height="1"/><rect x="544" y="390" width="1" height="54"/><rect x="550" y="409" width="1" height="24"/><rect x="555" y="424" width="1" height="25"/><rect x="560" y="421" width="1" height="8"/><rect x="560" y="444" width="1" height="8"/><rect x="565" y="398" width="1" height="6"/><rect x="570" y="402" width="1" height="19"/><rect x="576" y="360" width="1" height="18"/><rect x="581" y="370" width="1" height="15"/><rect x="586" y="333" width="1" height="2"/><rect x="591" y="322" width="1" height="14"/><rect x="596" y="279" width="1" height="9"/><rect x="596" y="294" width="1" height="8"/><rect x="601" y="281" width="1" height="25"/><rect x="607" y="285" width="1" height="13"/><rect x="607" y="301" width="1" height="9"/><rect x="612" y="270" width="1" height="6"/><rect x="612" y="288" width="1" height="4"/><rect x="617" y="251" width="1" height="3"/><rect x="622" y="233" width="1" height="3"/><rect x="622" y="246" width="1" height="8"/><rect x="627" y="227" width="1" height="14"/><rect x="633" y="231" width="1" height="19"/><rect x="638" y="306" width="1" height="87"/><rect x="643" y="340" width="1" height="76"/><rect x="648" y="401" width="1" height="117"/><rect x="653" y="457" width="1" height="14"/><rect x="653" y="490" width="1" height="46"/><rect x="658" y="393" width="1" height="15"/><rect x="658" y="445" width="1" height="10"/><rect x="664" y="402" width="1" height="16"/><rect x="664" y="422" width="1" height="8"/><rect x="669" y="396" width="1" height="30"/><rect x="674" y="414" width="1" height="2"/><rect x="674" y="429" width="1" height="24"/><rect x="679" y="418" width="1" height="20"/><rect x="684" y="421" width="1" height="22"/><rect x="690" y="436" width="1" height="29"/><rect x="695" y="439" width="1" height="15"/><rect x="695" y="498" width="1" height="12"/><rect x="700" y="431" width="1" height="23"/><rect x="705" y="444" width="1" height="30"/><rect x="710" y="427" width="1" height="37"/><rect x="715" y="454" width="1" height="4"/><rect x="715" y="463" width="1" height="14"/><rect x="721" y="442" width="1" height="12"/><rect x="726" y="441" width="1" height="17"/><rect x="731" y="456" width="1" height="23"/><rect x="736" y="450" width="1" height="6"/><rect x="736" y="474" width="1" height="4"/><rect x="741" y="450" width="1" height="22"/><rect x="747" y="443" width="1" height="33"/><rect x="752" y="454" width="1" height="18"/><rect x="757" y="441" width="1" height="1"/><rect x="757" y="462" width="1" height="8"/><rect x="762" y="435" width="1" height="16"/><rect x="767" y="445" width="1" height="24"/><rect x="773" y="469" width="1" height="14"/><rect x="778" y="478" width="1" height="29"/><rect x="783" y="487" width="1" height="4"/><rect x="783" y="497" width="1" height="3"/><rect x="788" y="480" width="1" height="23"/><rect x="793" y="481" width="1" height="15"/><rect x="798" y="487" width="1" height="24"/><rect x="804" y="470" width="1" height="4"/><rect x="804" y="497" width="1" height="5"/><rect x="809" y="452" width="1" height="5"/><rect x="809" y="473" width="1" height="8"/><rect x="814" y="399" width="1" height="3"/><rect x="814" y="423" width="1" height="7"/><rect x="819" y="402" width="1" height="15"/><rect x="824" y="399" width="1" height="17"/><rect x="830" y="400" width="1" height="37"/><rect x="835" y="413" width="1" height="1"/><rect x="835" y="433" width="1" height="5"/><rect x="840" y="412" width="1" height="26"/><rect x="845" y="436" width="1" height="20"/><rect x="850" y="436" width="1" height="9"/><rect x="850" y="448" width="1" height="14"/><rect x="855" y="439" width="1" height="27"/><rect x="861" y="451" width="1" height="20"/><rect x="866" y="457" width="1" height="27"/><rect x="871" y="478" width="1" height="20"/><rect x="876" y="476" width="1" height="15"/><rect x="881" y="490" width="1" height="28"/><rect x="887" y="504" width="1" height="18"/><rect x="892" y="471" width="1" height="3"/><rect x="897" y="474" width="1" height="3"/><rect x="902" y="441" width="1" height="1"/><rect x="902" y="448" width="1" height="4"/><rect x="907" y="413" width="1" height="3"/><rect x="907" y="431" width="1" height="2"/><rect x="912" y="405" width="1" height="7"/><rect x="912" y="416" width="1" height="4"/><rect x="918" y="417" width="1" height="22"/><rect x="923" y="468" width="1" height="1"/><rect x="923" y="490" width="1" height="16"/><rect x="928" y="450" width="1" height="13"/><rect x="928" y="469" width="1" height="14"/><rect x="933" y="452" width="1" height="14"/><rect x="938" y="466" width="1" height="28"/><rect x="944" y="472" width="1" height="30"/><rect x="949" y="477" width="1" height="17"/><rect x="954" y="490" width="1" height="5"/><rect x="954" y="498" width="1" height="6"/><rect x="959" y="443" width="1" height="5"/><rect x="959" y="451" width="1" height="19"/><rect x="964" y="443" width="1" height="13"/><rect x="969" y="446" width="1" height="24"/><rect x="975" y="454" width="1" height="1"/><rect x="975" y="469" width="1" height="11"/><rect x="985" y="343" width="1" height="9"/><rect x="985" y="368" width="1" height="5"/><rect x="990" y="317" width="1" height="18"/><rect x="995" y="306" width="1" height="30"/><rect x="1001" y="316" width="1" height="6"/><rect x="1001" y="326" width="1" height="9"/><rect x="1006" y="336" width="1" height="14"/><rect x="1011" y="333" width="1" height="37"/><rect x="1016" y="338" width="1" height="1"/><rect x="1016" y="363" width="1" height="3"/><rect x="1021" y="308" width="1" height="6"/><rect x="1026" y="297" width="1" height="26"/><rect x="1032" y="309" width="1" height="21"/><rect x="1037" y="317" width="1" height="49"/><rect x="1042" y="305" width="1" height="3"/><rect x="1042" y="334" width="1" height="3"/><rect x="1047" y="302" width="1" height="11"/><rect x="1052" y="267" width="1" height="3"/><rect x="1058" y="260" width="1" height="13"/><rect x="1063" y="262" width="1" height="15"/><rect x="1068" y="246" width="1" height="13"/><rect x="1068" y="267" width="1" height="7"/><rect x="1073" y="254" width="1" height="15"/><rect x="1078" y="260" width="1" height="21"/><rect x="1084" y="274" width="1" height="15"/><rect x="1089" y="265" width="1" height="5"/><rect x="1089" y="288" width="1" height="3"/><rect x="1094" y="250" width="1" height="1"/><rect x="1094" y="264" width="1" height="3"/><rect x="1099" y="246" width="1" height="11"/><rect x="1104" y="223" width="1" height="11"/><rect x="1109" y="227" width="1" height="9"/><rect x="1115" y="223" width="1" height="5"/><rect x="1115" y="231" width="1" height="11"/><rect x="1120" y="205" width="1" height="14"/><rect x="1125" y="210" width="1" height="11"/><rect x="1130" y="198" width="1" height="13"/><rect x="1135" y="205" width="1" height="17"/><rect x="1141" y="208" width="1" height="17"/><rect x="1146" y="217" width="1" height="21"/><rect x="1151" y="226" width="1" height="6"/><rect x="1151" y="243" width="1" height="1"/><rect x="1156" y="221" width="1" height="1"/><rect x="1156" y="226" width="1" height="9"/><rect x="1161" y="213" width="1" height="12"/><rect x="1166" y="188" width="1" height="3"/><rect x="1166" y="217" width="1" height="5"/><rect x="1172" y="161" width="1" height="3"/><rect x="1172" y="181" width="1" height="2"/><rect x="1177" y="151" width="1" height="4"/><rect x="1177" y="159" width="1" height="9"/><rect x="1182" y="133" width="1" height="11"/><rect x="1187" y="120" width="1" height="11"/><rect x="1187" y="137" width="1" height="9"/><rect x="1192" y="126" width="1" height="31"/><rect x="1198" y="139" width="1" height="20"/><rect x="1203" y="150" width="1" height="22"/><rect x="1208" y="161" width="1" height="14"/><rect x="1213" y="161" width="1" height="107"/><rect x="1218" y="230" width="1" height="41"/><rect x="1223" y="232" width="1" height="6"/><rect x="1229" y="218" width="1" height="35"/><rect x="1234" y="269" width="1" height="33"/><rect x="1239" y="274" width="1" height="17"/><rect x="1239" y="294" width="1" height="9"/><rect x="1244" y="280" width="1" height="16"/><rect x="1249" y="252" width="1" height="56"/><rect x="1255" y="298" width="1" height="26"/><rect x="1260" y="210" width="1" height="2"/><rect x="1260" y="309" width="1" height="15"/><rect x="1265" y="182" width="1" height="2"/><rect x="1265" y="206" width="1" height="6"/><rect x="1270" y="175" width="1" height="15"/><rect x="1275" y="168" width="1" height="40"/><rect x="1280" y="166" width="1" height="1"/><rect x="1280" y="200" width="1" height="6"/><rect x="1286" y="129" width="1" height="14"/><rect x="1291" y="146" width="1" height="21"/><rect x="1296" y="148" width="1" height="44"/><rect x="1301" y="140" width="1" height="25"/><rect x="1306" y="156" width="1" height="35"/><rect x="1312" y="181" width="1" height="23"/><rect x="1317" y="201" width="1" height="19"/><rect x="1322" y="172" width="1" height="6"/><rect x="1322" y="212" width="1" height="16"/><rect x="1327" y="173" width="1" height="31"/><rect x="1332" y="192" width="1" height="44"/><rect x="1338" y="223" width="1" height="33"/><rect x="1343" y="235" width="1" height="6"/><rect x="1343" y="250" width="1" height="5"/><rect x="1348" y="226" width="1" height="27"/><rect x="1353" y="232" width="1" height="28"/><rect x="1358" y="245" width="1" height="19"/><rect x="1363" y="260" width="1" height="23"/><rect x="1369" y="274" width="1" height="44"/><rect x="1374" y="288" width="1" height="6"/><rect x="1374" y="309" width="1" height="11"/><rect x="1379" y="278" width="1" height="35"/><rect x="1384" y="312" width="1" height="44"/><rect x="1389" y="284" width="1" height="6"/><rect x="1389" y="326" width="1" height="21"/><rect x="1395" y="283" width="1" height="19"/><rect x="1400" y="263" width="1" height="18"/><rect x="1400" y="286" width="1" height="2"/><rect x="1405" y="261" width="1" height="11"/><rect x="1405" y="275" width="1" height="3"/><rect x="1410" y="188" width="1" height="33"/><rect x="1410" y="257" width="1" height="6"/><rect x="1415" y="220" width="1" height="19"/><rect x="1420" y="224" width="1" height="11"/><rect x="1426" y="220" width="1" height="19"/><rect x="1431" y="213" width="1" height="3"/><rect x="1431" y="233" width="1" height="7"/><rect x="1436" y="189" width="1" height="14"/><rect x="1436" y="208" width="1" height="2"/>
<rect x="1438" y="203" width="29" height="1"/>
</g>
<path d="M5.5 362.0 C6.2 362.2 8.4 362.6 10.0 363.2 C11.6 363.8 13.3 364.4 15.0 365.3 C16.7 366.2 18.3 367.2 20.0 368.5 C21.7 369.8 23.3 371.4 25.0 373.0 C26.7 374.6 26.7 375.3 30.0 378.3 C33.3 381.3 40.0 386.9 45.0 391.1 C50.0 395.4 56.2 400.3 60.0 403.8 C63.8 407.3 63.8 409.0 67.6 412.1 C71.4 415.2 77.6 418.4 82.6 422.3 C87.6 426.2 93.8 432.1 97.6 435.4 C101.4 438.7 101.4 439.6 105.2 442.1 C109.0 444.6 115.2 447.8 120.2 450.4 C125.2 453.0 131.2 455.2 135.2 457.5 C139.2 459.8 140.7 462.2 144.2 464.3 C147.7 466.4 152.7 469.1 156.2 470.3 C159.7 471.6 161.2 471.7 165.2 471.8 C169.2 471.9 175.3 471.4 180.3 471.0 C185.3 470.6 191.3 469.4 195.3 469.5 C199.3 469.6 200.6 471.9 204.3 471.8 C208.1 471.7 213.5 470.1 217.8 468.8 C222.1 467.5 225.7 465.3 230.0 463.8 C234.3 462.3 238.5 461.9 243.5 459.8 C248.5 457.7 255.6 453.9 260.1 451.1 C264.6 448.3 266.9 445.4 270.6 442.8 C274.4 440.2 278.9 437.7 282.6 435.6 C286.4 433.5 289.4 431.8 293.1 430.0 C296.9 428.2 301.1 425.9 305.1 424.7 C309.1 423.5 313.3 423.2 317.1 422.8 C320.9 422.4 323.4 423.4 327.7 422.4 C332.0 421.4 338.4 418.1 342.7 416.8 C346.9 415.5 348.7 416.1 353.2 414.7 C357.7 413.3 363.9 410.1 369.7 408.3 C375.5 406.5 381.5 404.6 387.8 403.8 C394.1 403.0 401.1 404.4 407.3 403.6 C413.6 402.8 419.9 400.7 425.3 399.2 C430.8 397.7 433.4 396.4 440.0 394.5 C446.6 392.6 455.8 388.5 465.0 387.5 C474.2 386.5 482.6 388.2 495.1 388.3 C507.6 388.4 530.2 387.0 540.2 387.8 C550.2 388.6 550.2 391.9 555.2 393.1 C560.2 394.4 565.2 395.4 570.2 395.3 C575.2 395.2 580.2 394.6 585.2 392.3 C590.2 390.1 595.2 385.1 600.2 381.8 C605.2 378.6 611.5 375.6 615.3 372.8 C619.1 370.0 620.9 367.3 623.0 365.2 C625.1 363.1 626.4 361.7 628.0 360.3 C629.6 358.9 630.8 357.1 632.5 356.7 C634.2 356.2 636.1 357.2 638.0 357.6 C639.9 358.0 641.3 357.5 643.8 359.3 C646.3 361.1 649.3 366.1 652.8 368.3 C656.3 370.5 658.8 369.9 665.0 372.4 C671.2 374.9 682.0 379.7 690.0 383.5 C698.0 387.3 706.0 391.8 713.1 395.0 C720.2 398.2 726.2 399.9 732.7 402.5 C739.2 405.1 747.2 408.6 752.2 410.3 C757.2 412.1 758.2 411.1 762.7 413.0 C767.2 414.9 773.4 418.7 779.2 421.7 C785.0 424.7 792.5 428.9 797.3 430.8 C802.1 432.7 803.5 432.9 807.8 432.9 C812.0 432.9 818.3 431.3 822.8 430.8 C827.3 430.3 831.1 429.9 834.8 429.9 C838.5 429.9 841.6 430.4 845.0 430.8 C848.4 431.2 850.8 431.4 855.0 432.6 C859.2 433.8 864.7 435.7 870.0 437.8 C875.3 439.9 881.6 444.1 886.6 445.3 C891.6 446.6 895.4 445.7 900.1 445.3 C904.9 444.9 909.6 443.0 915.1 443.1 C920.6 443.2 926.6 444.4 933.1 445.8 C939.6 447.2 947.4 450.7 954.2 451.8 C961.0 452.9 968.7 453.2 973.7 452.4 C978.7 451.6 980.0 449.6 984.2 446.8 C988.5 444.0 994.7 438.5 999.2 435.3 C1003.7 432.1 1006.7 430.7 1011.2 427.7 C1015.7 424.7 1021.8 420.3 1026.3 417.5 C1030.8 414.7 1034.3 413.5 1038.3 410.8 C1042.3 408.1 1047.1 404.1 1050.3 401.5 C1053.5 398.9 1054.0 398.5 1057.7 395.1 C1061.4 391.7 1067.7 384.8 1072.7 380.9 C1077.7 377.0 1081.5 376.5 1087.7 371.9 C1094.0 367.3 1103.2 359.2 1110.2 353.1 C1117.2 347.0 1124.2 339.7 1129.7 335.1 C1135.2 330.5 1138.3 328.7 1143.3 325.3 C1148.3 321.9 1156.2 317.3 1159.8 314.8 C1163.4 312.3 1160.1 315.0 1164.7 310.2 C1169.3 305.4 1181.5 291.7 1187.2 286.1 C1193.0 280.5 1195.7 279.1 1199.2 276.4 C1202.7 273.6 1203.4 271.2 1208.2 269.6 C1213.0 268.0 1222.0 267.1 1227.8 266.9 C1233.6 266.7 1238.4 267.8 1242.8 268.6 C1247.2 269.4 1248.9 273.0 1254.2 271.8 C1259.5 270.6 1266.9 266.2 1274.6 261.6 C1282.2 257.0 1293.3 248.0 1300.1 244.3 C1306.8 240.6 1310.6 240.8 1315.1 239.4 C1319.6 238.0 1322.1 236.3 1327.1 235.8 C1332.1 235.3 1339.7 235.9 1345.2 236.4 C1350.7 236.9 1354.0 236.7 1360.2 238.8 C1366.5 240.9 1376.5 246.5 1382.7 248.8 C1389.0 251.2 1394.0 252.1 1397.7 252.9 C1401.5 253.7 1401.4 254.1 1405.2 253.8 C1409.0 253.6 1415.2 252.4 1420.3 251.4 C1425.4 250.4 1433.1 248.7 1435.7 248.1" fill="none" stroke="#ff0000" stroke-width="2.1" stroke-linejoin="round" stroke-linecap="round"/>
<path d="M5.7 448.2 C7.2 448.1 12.2 447.4 15.0 447.4 C17.8 447.3 18.8 447.4 22.5 447.9 C26.2 448.4 30.8 449.4 37.0 450.3 C43.2 451.2 53.6 452.7 60.0 453.5 C66.3 454.3 70.1 454.6 75.1 455.3 C80.1 456.0 85.1 456.7 90.1 457.5 C95.1 458.3 97.7 458.9 105.2 460.0 C112.7 461.1 126.4 462.6 135.2 463.8 C143.9 465.0 150.2 466.6 157.7 467.3 C165.2 468.1 172.8 468.1 180.3 468.3 C187.8 468.5 194.5 468.7 202.8 468.3 C211.1 467.9 223.0 466.7 230.0 466.1 C237.0 465.5 240.0 465.3 245.0 464.6 C250.0 463.9 255.1 462.9 260.1 461.9 C265.1 460.8 268.9 459.6 275.1 458.3 C281.4 457.0 291.4 454.9 297.6 453.8 C303.9 452.8 307.6 452.4 312.6 452.0 C317.6 451.6 322.7 451.7 327.7 451.1 C332.7 450.5 337.7 449.1 342.7 448.4 C347.7 447.6 352.7 447.3 357.7 446.6 C362.7 445.9 367.7 444.8 372.7 444.0 C377.7 443.2 382.0 442.7 387.8 442.1 C393.6 441.5 401.1 441.3 407.3 440.6 C413.6 439.9 419.9 438.7 425.3 437.9 C430.8 437.1 433.4 436.6 440.0 435.6 C446.6 434.6 455.8 432.9 465.0 431.8 C474.2 430.7 482.6 430.1 495.1 429.1 C507.6 428.1 526.4 426.5 540.2 425.8 C554.0 425.1 567.7 425.8 577.7 424.9 C587.7 423.9 593.9 421.5 600.2 420.1 C606.5 418.7 609.9 418.0 615.3 416.4 C620.7 414.8 628.3 411.4 632.8 410.3 C637.3 409.2 636.4 409.5 642.5 409.7 C648.6 409.9 657.3 410.6 669.6 411.5 C681.9 412.4 701.8 414.1 716.1 415.3 C730.4 416.5 744.7 417.6 755.2 418.7 C765.7 419.8 770.9 420.7 779.2 421.7 C787.5 422.7 796.3 424.3 804.8 424.7 C813.3 425.1 823.6 424.3 830.3 424.3 C837.0 424.3 839.6 424.6 845.0 424.9 C850.4 425.1 855.1 425.0 862.5 425.8 C869.9 426.6 880.8 429.2 889.6 429.9 C898.4 430.6 907.1 429.7 915.1 429.9 C923.1 430.1 931.1 430.6 937.6 431.1 C944.1 431.6 947.9 432.4 954.2 432.9 C960.5 433.4 969.2 434.4 975.2 434.1 C981.2 433.9 984.2 432.5 990.2 431.4 C996.2 430.3 1003.7 429.1 1011.2 427.7 C1018.7 426.3 1028.8 424.2 1035.3 422.8 C1041.8 421.4 1044.5 420.5 1050.3 419.0 C1056.1 417.5 1064.3 415.3 1070.0 413.8 C1075.7 412.3 1078.0 412.2 1084.7 410.2 C1091.4 408.2 1102.2 404.4 1110.2 401.9 C1118.2 399.3 1124.5 397.5 1132.8 394.9 C1141.1 392.3 1152.3 388.8 1159.8 386.1 C1167.3 383.4 1172.8 380.8 1177.8 378.6 C1182.8 376.4 1184.7 375.1 1190.0 372.9 C1195.3 370.7 1203.4 367.4 1209.7 365.4 C1216.0 363.4 1222.7 361.9 1227.7 360.9 C1232.8 359.9 1235.6 360.1 1240.0 359.6 C1244.4 359.1 1248.5 359.5 1254.3 358.1 C1260.1 356.7 1267.0 354.1 1274.6 351.4 C1282.2 348.7 1291.8 344.5 1300.1 341.9 C1308.3 339.3 1316.6 337.3 1324.1 335.6 C1331.6 333.9 1338.4 332.8 1345.2 331.8 C1352.0 330.8 1358.2 330.1 1364.7 329.6 C1371.2 329.1 1378.5 329.1 1384.2 328.8 C1390.0 328.5 1393.7 328.6 1399.2 327.8 C1404.7 327.1 1411.2 325.5 1417.3 324.3 C1423.4 323.1 1432.6 321.5 1435.7 320.9" fill="none" stroke="#0000ff" stroke-width="2.1" stroke-linejoin="round" stroke-linecap="round"/>
<g shape-rendering="crispEdges" fill="#f00">
<rect x="4" y="746" width="2" height="13"/>
<rect x="9" y="749" width="2" height="10"/>
<rect x="14" y="748" width="2" height="11"/>
<rect x="19" y="743" width="2" height="16"/>
<rect x="24" y="746" width="2" height="13"/>
<rect x="30" y="745" width="2" height="14"/>
<rect x="35" y="746" width="2" height="13"/>
<rect x="40" y="749" width="2" height="10"/>
<rect x="45" y="745" width="2" height="14"/>
<rect x="50" y="747" width="2" height="12"/>
<rect x="55" y="748" width="2" height="11"/>
<rect x="61" y="748" width="2" height="11"/>
<rect x="66" y="748" width="2" height="11"/>
<rect x="71" y="746" width="2" height="13"/>
<rect x="76" y="749" width="2" height="10"/>
<rect x="81" y="747" width="2" height="12"/>
<rect x="87" y="747" width="2" height="12"/>
<rect x="92" y="750" width="2" height="9"/>
<rect x="97" y="746" width="2" height="13"/>
<rect x="102" y="746" width="2" height="13"/>
<rect x="107" y="750" width="2" height="9"/>
<rect x="113" y="750" width="2" height="9"/>
<rect x="118" y="757" width="2" height="2"/>
<rect x="123" y="750" width="2" height="9"/>
<rect x="128" y="750" width="2" height="9"/>
<rect x="133" y="747" width="2" height="12"/>
<rect x="138" y="749" width="2" height="10"/>
<rect x="144" y="749" width="2" height="10"/>
<rect x="149" y="745" width="2" height="14"/>
<rect x="154" y="747" width="2" height="12"/>
<rect x="159" y="744" width="2" height="15"/>
<rect x="164" y="743" width="2" height="16"/>
<rect x="170" y="745" width="2" height="14"/>
<rect x="175" y="742" width="2" height="17"/>
<rect x="180" y="747" width="2" height="12"/>
<rect x="185" y="746" width="2" height="13"/>
<rect x="190" y="747" width="2" height="12"/>
<rect x="195" y="743" width="2" height="16"/>
<rect x="201" y="746" width="2" height="13"/>
<rect x="206" y="742" width="2" height="17"/>
<rect x="211" y="737" width="2" height="22"/>
<rect x="216" y="739" width="2" height="20"/>
<rect x="221" y="743" width="2" height="16"/>
<rect x="227" y="741" width="2" height="18"/>
<rect x="232" y="744" width="2" height="15"/>
<rect x="237" y="740" width="2" height="19"/>
<rect x="242" y="746" width="2" height="13"/>
<rect x="247" y="738" width="2" height="21"/>
<rect x="252" y="738" width="2" height="21"/>
<rect x="258" y="743" width="2" height="16"/>
<rect x="263" y="741" width="2" height="18"/>
<rect x="268" y="737" width="2" height="22"/>
<rect x="273" y="742" width="2" height="17"/>
<rect x="278" y="742" width="2" height="17"/>
<rect x="284" y="743" width="2" height="16"/>
<rect x="289" y="743" width="2" height="16"/>
<rect x="294" y="746" width="2" height="13"/>
<rect x="299" y="744" width="2" height="15"/>
<rect x="304" y="742" width="2" height="17"/>
<rect x="309" y="746" width="2" height="13"/>
<rect x="315" y="745" width="2" height="14"/>
<rect x="320" y="747" width="2" height="12"/>
<rect x="325" y="749" width="2" height="10"/>
<rect x="330" y="749" width="2" height="10"/>
<rect x="335" y="743" width="2" height="16"/>
<rect x="341" y="745" width="2" height="14"/>
<rect x="346" y="749" width="2" height="10"/>
<rect x="351" y="746" width="2" height="13"/>
<rect x="356" y="742" width="2" height="17"/>
<rect x="361" y="730" width="2" height="29"/>
<rect x="366" y="727" width="2" height="32"/>
<rect x="372" y="735" width="2" height="24"/>
<rect x="377" y="741" width="2" height="18"/>
<rect x="382" y="741" width="2" height="18"/>
<rect x="387" y="740" width="2" height="19"/>
<rect x="392" y="739" width="2" height="20"/>
<rect x="398" y="740" width="2" height="19"/>
<rect x="403" y="740" width="2" height="19"/>
<rect x="408" y="738" width="2" height="21"/>
<rect x="413" y="743" width="2" height="16"/>
<rect x="418" y="742" width="2" height="17"/>
<rect x="424" y="740" width="2" height="19"/>
<rect x="429" y="743" width="2" height="16"/>
<rect x="434" y="740" width="2" height="19"/>
<rect x="439" y="745" width="2" height="14"/>
<rect x="444" y="743" width="2" height="16"/>
<rect x="449" y="743" width="2" height="16"/>
<rect x="455" y="744" width="2" height="15"/>
<rect x="460" y="744" width="2" height="15"/>
<rect x="465" y="745" width="2" height="14"/>
<rect x="470" y="739" width="2" height="20"/>
<rect x="475" y="743" width="2" height="16"/>
<rect x="481" y="738" width="2" height="21"/>
<rect x="486" y="745" width="2" height="14"/>
<rect x="491" y="742" width="2" height="17"/>
<rect x="496" y="745" width="2" height="14"/>
<rect x="501" y="744" width="2" height="15"/>
<rect x="506" y="742" width="2" height="17"/>
<rect x="512" y="743" width="2" height="16"/>
<rect x="517" y="744" width="2" height="15"/>
<rect x="522" y="747" width="2" height="12"/>
<rect x="527" y="740" width="2" height="19"/>
<rect x="532" y="739" width="2" height="20"/>
<rect x="538" y="739" width="2" height="20"/>
<rect x="543" y="740" width="2" height="19"/>
<rect x="548" y="747" width="2" height="12"/>
<rect x="553" y="746" width="2" height="13"/>
<rect x="558" y="746" width="2" height="13"/>
<rect x="563" y="743" width="2" height="16"/>
<rect x="569" y="745" width="2" height="14"/>
<rect x="574" y="738" width="2" height="21"/>
<rect x="579" y="745" width="2" height="14"/>
<rect x="584" y="740" width="2" height="19"/>
<rect x="589" y="734" width="2" height="25"/>
<rect x="595" y="739" width="2" height="20"/>
<rect x="600" y="743" width="2" height="16"/>
<rect x="605" y="738" width="2" height="21"/>
<rect x="610" y="738" width="2" height="21"/>
<rect x="615" y="740" width="2" height="19"/>
<rect x="620" y="742" width="2" height="17"/>
<rect x="626" y="737" width="2" height="22"/>
<rect x="631" y="740" width="2" height="19"/>
<rect x="636" y="736" width="2" height="23"/>
<rect x="641" y="727" width="2" height="32"/>
<rect x="646" y="735" width="2" height="24"/>
<rect x="652" y="730" width="2" height="29"/>
<rect x="657" y="733" width="2" height="26"/>
<rect x="662" y="738" width="2" height="21"/>
<rect x="667" y="737" width="2" height="22"/>
<rect x="672" y="740" width="2" height="19"/>
<rect x="678" y="744" width="2" height="15"/>
<rect x="683" y="745" width="2" height="14"/>
<rect x="688" y="745" width="2" height="14"/>
<rect x="693" y="739" width="2" height="20"/>
<rect x="698" y="746" width="2" height="13"/>
<rect x="703" y="743" width="2" height="16"/>
<rect x="709" y="744" width="2" height="15"/>
<rect x="714" y="742" width="2" height="17"/>
<rect x="719" y="741" width="2" height="18"/>
<rect x="724" y="740" width="2" height="19"/>
<rect x="729" y="742" width="2" height="17"/>
<rect x="735" y="736" width="2" height="23"/>
<rect x="740" y="745" width="2" height="14"/>
<rect x="745" y="737" width="2" height="22"/>
<rect x="750" y="742" width="2" height="17"/>
<rect x="755" y="742" width="2" height="17"/>
<rect x="760" y="743" width="2" height="16"/>
<rect x="766" y="744" width="2" height="15"/>
<rect x="771" y="745" width="2" height="14"/>
<rect x="776" y="742" width="2" height="17"/>
<rect x="781" y="746" width="2" height="13"/>
<rect x="786" y="742" width="2" height="17"/>
<rect x="792" y="745" width="2" height="14"/>
<rect x="797" y="743" width="2" height="16"/>
<rect x="802" y="745" width="2" height="14"/>
<rect x="807" y="742" width="2" height="17"/>
<rect x="812" y="738" width="2" height="21"/>
<rect x="817" y="740" width="2" height="19"/>
<rect x="823" y="742" width="2" height="17"/>
<rect x="828" y="743" width="2" height="16"/>
<rect x="833" y="742" width="2" height="17"/>
<rect x="838" y="744" width="2" height="15"/>
<rect x="843" y="744" width="2" height="15"/>
<rect x="849" y="742" width="2" height="17"/>
<rect x="854" y="743" width="2" height="16"/>
<rect x="859" y="748" width="2" height="11"/>
<rect x="864" y="748" width="2" height="11"/>
<rect x="869" y="748" width="2" height="11"/>
<rect x="874" y="746" width="2" height="13"/>
<rect x="880" y="745" width="2" height="14"/>
<rect x="885" y="747" width="2" height="12"/>
<rect x="890" y="744" width="2" height="15"/>
<rect x="895" y="748" width="2" height="11"/>
<rect x="900" y="755" width="2" height="4"/>
<rect x="906" y="743" width="2" height="16"/>
<rect x="911" y="744" width="2" height="15"/>
<rect x="916" y="746" width="2" height="13"/>
<rect x="921" y="743" width="2" height="16"/>
<rect x="926" y="745" width="2" height="14"/>
<rect x="931" y="747" width="2" height="12"/>
<rect x="937" y="744" width="2" height="15"/>
<rect x="942" y="746" width="2" height="13"/>
<rect x="947" y="747" width="2" height="12"/>
<rect x="952" y="748" width="2" height="11"/>
<rect x="957" y="742" width="2" height="17"/>
<rect x="963" y="747" width="2" height="12"/>
<rect x="968" y="748" width="2" height="11"/>
<rect x="973" y="744" width="2" height="15"/>
<rect x="978" y="732" width="2" height="27"/>
<rect x="983" y="736" width="2" height="23"/>
<rect x="989" y="735" width="2" height="24"/>
<rect x="994" y="740" width="2" height="19"/>
<rect x="999" y="744" width="2" height="15"/>
<rect x="1004" y="743" width="2" height="16"/>
<rect x="1009" y="743" width="2" height="16"/>
<rect x="1014" y="741" width="2" height="18"/>
<rect x="1020" y="737" width="2" height="22"/>
<rect x="1025" y="741" width="2" height="18"/>
<rect x="1030" y="741" width="2" height="18"/>
<rect x="1035" y="736" width="2" height="23"/>
<rect x="1040" y="739" width="2" height="20"/>
<rect x="1046" y="740" width="2" height="19"/>
<rect x="1051" y="737" width="2" height="22"/>
<rect x="1056" y="738" width="2" height="21"/>
<rect x="1061" y="737" width="2" height="22"/>
<rect x="1066" y="735" width="2" height="24"/>
<rect x="1071" y="740" width="2" height="19"/>
<rect x="1077" y="737" width="2" height="22"/>
<rect x="1082" y="737" width="2" height="22"/>
<rect x="1087" y="725" width="2" height="34"/>
<rect x="1092" y="735" width="2" height="24"/>
<rect x="1097" y="735" width="2" height="24"/>
<rect x="1103" y="737" width="2" height="22"/>
<rect x="1108" y="740" width="2" height="19"/>
<rect x="1113" y="732" width="2" height="27"/>
<rect x="1118" y="731" width="2" height="28"/>
<rect x="1123" y="728" width="2" height="31"/>
<rect x="1128" y="735" width="2" height="24"/>
<rect x="1134" y="733" width="2" height="26"/>
<rect x="1139" y="734" width="2" height="25"/>
<rect x="1144" y="723" width="2" height="36"/>
<rect x="1149" y="728" width="2" height="31"/>
<rect x="1154" y="721" width="2" height="38"/>
<rect x="1160" y="713" width="2" height="46"/>
<rect x="1165" y="721" width="2" height="38"/>
<rect x="1170" y="708" width="2" height="51"/>
<rect x="1175" y="704" width="2" height="55"/>
<rect x="1180" y="710" width="2" height="49"/>
<rect x="1185" y="699" width="2" height="60"/>
<rect x="1191" y="721" width="2" height="38"/>
<rect x="1196" y="727" width="2" height="32"/>
<rect x="1201" y="725" width="2" height="34"/>
<rect x="1206" y="726" width="2" height="33"/>
<rect x="1211" y="704" width="2" height="55"/>
<rect x="1217" y="720" width="2" height="39"/>
<rect x="1222" y="723" width="2" height="36"/>
<rect x="1227" y="715" width="2" height="44"/>
<rect x="1232" y="723" width="2" height="36"/>
<rect x="1237" y="725" width="2" height="34"/>
<rect x="1243" y="733" width="2" height="26"/>
<rect x="1248" y="719" width="2" height="40"/>
<rect x="1253" y="731" width="2" height="28"/>
<rect x="1258" y="714" width="2" height="45"/>
<rect x="1263" y="714" width="2" height="45"/>
<rect x="1268" y="718" width="2" height="41"/>
<rect x="1274" y="723" width="2" height="36"/>
<rect x="1279" y="719" width="2" height="40"/>
<rect x="1284" y="722" width="2" height="37"/>
<rect x="1289" y="728" width="2" height="31"/>
<rect x="1294" y="717" width="2" height="42"/>
<rect x="1300" y="731" width="2" height="28"/>
<rect x="1305" y="732" width="2" height="27"/>
<rect x="1310" y="731" width="2" height="28"/>
<rect x="1315" y="731" width="2" height="28"/>
<rect x="1320" y="718" width="2" height="41"/>
<rect x="1325" y="719" width="2" height="40"/>
<rect x="1331" y="731" width="2" height="28"/>
<rect x="1336" y="732" width="2" height="27"/>
<rect x="1341" y="732" width="2" height="27"/>
<rect x="1346" y="730" width="2" height="29"/>
<rect x="1351" y="729" width="2" height="30"/>
<rect x="1357" y="731" width="2" height="28"/>
<rect x="1362" y="732" width="2" height="27"/>
<rect x="1367" y="730" width="2" height="29"/>
<rect x="1372" y="727" width="2" height="32"/>
<rect x="1377" y="728" width="2" height="31"/>
<rect x="1382" y="728" width="2" height="31"/>
<rect x="1388" y="727" width="2" height="32"/>
<rect x="1393" y="727" width="2" height="32"/>
<rect x="1398" y="723" width="2" height="36"/>
<rect x="1403" y="698" width="2" height="61"/>
<rect x="1408" y="701" width="2" height="58"/>
<rect x="1414" y="726" width="2" height="33"/>
<rect x="1419" y="744" width="2" height="15"/>
<rect x="1424" y="728" width="2" height="31"/>
<rect x="1429" y="720" width="2" height="39"/>
<rect x="1434" y="718" width="2" height="41"/>
</g>
<rect x="327" y="27" width="198" height="212" fill="#fff"/>
<rect x="540" y="87" width="194" height="128" fill="#fff"/>
<text transform="translate(329.6 39.50) scale(1 1.12)" font-size="13.2" font-weight="bold" fill="#f00">MOV( 55 )</text>
<text transform="translate(407.6 39.50) scale(1 1.12)" font-size="13.2" font-weight="bold" fill="#f00" xml:space="preserve">: 10.762,37</text>
<use href="#chk" x="498.7" y="30.30"/>
<text transform="translate(329.6 53.55) scale(1 1.12)" font-size="13.2" font-weight="bold" fill="#00f">MOV( 200 )</text>
<text transform="translate(407.6 53.55) scale(1 1.12)" font-size="13.2" font-weight="bold" fill="#00f" xml:space="preserve">: 10.282,70</text>
<use href="#chk" x="498.7" y="44.35"/>
<text transform="translate(329.6 67.60) scale(1 1.12)" font-size="13.2" font-weight="bold" fill="#000">HLine</text>
<text transform="translate(407.6 67.60) scale(1 1.12)" font-size="13.2" font-weight="bold" fill="#000" xml:space="preserve">: 9525,00</text>
<use href="#chk" x="498.7" y="58.40"/>
<text transform="translate(329.6 81.65) scale(1 1.12)" font-size="13.2" font-weight="bold" fill="#000">HLine</text>
<text transform="translate(407.6 81.65) scale(1 1.12)" font-size="13.2" font-weight="bold" fill="#000" xml:space="preserve">: 8565,00</text>
<use href="#chk" x="498.7" y="72.45"/>
<text transform="translate(329.6 95.70) scale(1 1.12)" font-size="13.2" font-weight="bold" fill="#000">HLine</text>
<text transform="translate(407.6 95.70) scale(1 1.12)" font-size="13.2" font-weight="bold" fill="#000" xml:space="preserve">: 9050,00</text>
<use href="#chk" x="498.7" y="86.50"/>
<text transform="translate(329.6 109.75) scale(1 1.12)" font-size="13.2" font-weight="bold" fill="#000">HLine</text>
<text transform="translate(407.6 109.75) scale(1 1.12)" font-size="13.2" font-weight="bold" fill="#000" xml:space="preserve">: 10550,00</text>
<use href="#chk" x="498.7" y="100.55"/>
<text transform="translate(329.6 123.80) scale(1 1.12)" font-size="13.2" font-weight="bold" fill="#000">HLine</text>
<text transform="translate(407.6 123.80) scale(1 1.12)" font-size="13.2" font-weight="bold" fill="#000" xml:space="preserve">: 9800,00</text>
<use href="#chk" x="498.7" y="114.60"/>
<text transform="translate(329.6 137.85) scale(1 1.12)" font-size="13.2" font-weight="bold" fill="#000">HLine</text>
<text transform="translate(407.6 137.85) scale(1 1.12)" font-size="13.2" font-weight="bold" fill="#000" xml:space="preserve">: 10000,00</text>
<use href="#chk" x="498.7" y="128.65"/>
<text transform="translate(329.6 151.90) scale(1 1.12)" font-size="13.2" font-weight="bold" fill="#000">HLine</text>
<text transform="translate(407.6 151.90) scale(1 1.12)" font-size="13.2" font-weight="bold" fill="#000" xml:space="preserve">: 8715,00</text>
<use href="#chk" x="498.7" y="142.70"/>
<text transform="translate(329.6 165.95) scale(1 1.12)" font-size="13.2" font-weight="bold" fill="#000">HLine</text>
<text transform="translate(407.6 165.95) scale(1 1.12)" font-size="13.2" font-weight="bold" fill="#000" xml:space="preserve">: 11605,00</text>
<use href="#chk" x="498.7" y="156.75"/>
<text transform="translate(329.6 180.00) scale(1 1.12)" font-size="13.2" font-weight="bold" fill="#000">HLine</text>
<text transform="translate(407.6 180.00) scale(1 1.12)" font-size="13.2" font-weight="bold" fill="#000" xml:space="preserve">: 9255,00</text>
<use href="#chk" x="498.7" y="170.80"/>
<text transform="translate(329.6 194.05) scale(1 1.12)" font-size="13.2" font-weight="bold" fill="#f00">HLine</text>
<text transform="translate(407.6 194.05) scale(1 1.12)" font-size="13.2" font-weight="bold" fill="#f00" xml:space="preserve">: 10250,00</text>
<use href="#chk" x="498.7" y="184.85"/>
<text transform="translate(329.6 208.10) scale(1 1.12)" font-size="13.2" font-weight="bold" fill="#f00">HLine</text>
<text transform="translate(407.6 208.10) scale(1 1.12)" font-size="13.2" font-weight="bold" fill="#f00" xml:space="preserve">: 11252,00</text>
<use href="#chk" x="498.7" y="198.90"/>
<text transform="translate(329.6 222.15) scale(1 1.12)" font-size="13.2" font-weight="bold" fill="#000">HLine</text>
<text transform="translate(407.6 222.15) scale(1 1.12)" font-size="13.2" font-weight="bold" fill="#000" xml:space="preserve">: 10780,00</text>
<use href="#chk" x="498.7" y="212.95"/>
<text transform="translate(329.6 236.20) scale(1 1.12)" font-size="13.2" font-weight="bold" fill="#f00">HLine</text>
<text transform="translate(407.6 236.20) scale(1 1.12)" font-size="13.2" font-weight="bold" fill="#f00" xml:space="preserve">: 11025,00</text>
<use href="#chk" x="498.7" y="227.00"/>
<text transform="translate(541.6 99.80) scale(1 1.12)" font-size="13.2" font-weight="bold" fill="#000">03.11.2025</text>
<text transform="translate(541.6 113.80) scale(1 1.12)" font-size="13.2" font-weight="bold" fill="#000">XU100</text>
<text transform="translate(541.6 127.80) scale(1 1.12)" font-size="13.2" font-weight="bold" fill="#000">Açılış</text>
<text transform="translate(619.4 127.80) scale(1 1.12)" font-size="13.2" font-weight="bold" fill="#000">11019,60</text>
<text transform="translate(541.6 141.80) scale(1 1.12)" font-size="13.2" font-weight="bold" fill="#000">Yüksek</text>
<text transform="translate(619.4 141.80) scale(1 1.12)" font-size="13.2" font-weight="bold" fill="#000">11152,28</text>
<text transform="translate(541.6 155.80) scale(1 1.12)" font-size="13.2" font-weight="bold" fill="#000">Düşük</text>
<text transform="translate(619.4 155.80) scale(1 1.12)" font-size="13.2" font-weight="bold" fill="#000">11011,87</text>
<text transform="translate(541.6 169.80) scale(1 1.12)" font-size="13.2" font-weight="bold" fill="#000">Kapanış</text>
<text transform="translate(619.4 169.80) scale(1 1.12)" font-size="13.2" font-weight="bold" fill="#000">11060,39</text>
<text transform="translate(541.6 183.80) scale(1 1.12)" font-size="13.2" font-weight="bold" fill="#000">Ö.Kap.Fark</text>
<text transform="translate(619.4 183.80) scale(1 1.12)" font-size="13.2" font-weight="bold" fill="#000">88,87</text>
<text transform="translate(541.6 197.80) scale(1 1.12)" font-size="13.2" font-weight="bold" fill="#000">Miktar</text>
<text transform="translate(619.4 197.80) scale(1 1.12)" font-size="13.2" font-weight="bold" fill="#000">8573443786,00</text>
<text transform="translate(541.6 211.80) scale(1 1.12)" font-size="13.2" font-weight="bold" fill="#000">Değer</text>
<text transform="translate(619.4 211.80) scale(1 1.12)" font-size="13.2" font-weight="bold" fill="#000">11781,05</text>
<clipPath id="cax"><rect x="1468" y="18" width="59" height="742"/></clipPath>
<g shape-rendering="crispEdges" fill="#000">
<rect x="1468" y="668" width="6" height="1"/>
<rect x="1468" y="653" width="3" height="1"/>
<rect x="1468" y="638" width="6" height="1"/>
<rect x="1468" y="623" width="3" height="1"/>
<rect x="1468" y="608" width="6" height="1"/>
<rect x="1468" y="592" width="3" height="1"/>
<rect x="1468" y="577" width="6" height="1"/>
<rect x="1468" y="562" width="3" height="1"/>
<rect x="1468" y="547" width="6" height="1"/>
<rect x="1468" y="531" width="3" height="1"/>
<rect x="1468" y="516" width="6" height="1"/>
<rect x="1468" y="501" width="3" height="1"/>
<rect x="1468" y="486" width="6" height="1"/>
<rect x="1468" y="471" width="3" height="1"/>
<rect x="1468" y="455" width="6" height="1"/>
<rect x="1468" y="440" width="3" height="1"/>
<rect x="1468" y="425" width="6" height="1"/>
<rect x="1468" y="410" width="3" height="1"/>
<rect x="1468" y="394" width="6" height="1"/>
<rect x="1468" y="379" width="3" height="1"/>
<rect x="1468" y="364" width="6" height="1"/>
<rect x="1468" y="349" width="3" height="1"/>
<rect x="1468" y="334" width="6" height="1"/>
<rect x="1468" y="318" width="3" height="1"/>
<rect x="1468" y="303" width="6" height="1"/>
<rect x="1468" y="288" width="3" height="1"/>
<rect x="1468" y="273" width="6" height="1"/>
<rect x="1468" y="258" width="3" height="1"/>
<rect x="1468" y="242" width="6" height="1"/>
<rect x="1468" y="227" width="3" height="1"/>
<rect x="1468" y="212" width="6" height="1"/>
<rect x="1468" y="197" width="3" height="1"/>
<rect x="1468" y="181" width="6" height="1"/>
<rect x="1468" y="166" width="3" height="1"/>
<rect x="1468" y="151" width="6" height="1"/>
<rect x="1468" y="136" width="3" height="1"/>
<rect x="1468" y="121" width="6" height="1"/>
<rect x="1468" y="105" width="3" height="1"/>
<rect x="1468" y="90" width="6" height="1"/>
<rect x="1468" y="75" width="3" height="1"/>
<rect x="1468" y="60" width="6" height="1"/>
<rect x="1468" y="710" width="6" height="1"/>
<rect x="1468" y="720" width="3" height="1"/>
<rect x="1468" y="730" width="6" height="1"/>
<rect x="1468" y="740" width="3" height="1"/>
<rect x="1468" y="750" width="6" height="1"/>
</g>
<g clip-path="url(#cax)">
<text transform="translate(1477.4 673.0) scale(1 1.12)" font-size="13.2" font-weight="bold" fill="#000">8000,00</text>
<text transform="translate(1477.4 643.0) scale(1 1.12)" font-size="13.2" font-weight="bold" fill="#000">8200,00</text>
<text transform="translate(1477.4 613.0) scale(1 1.12)" font-size="13.2" font-weight="bold" fill="#000">8400,00</text>
<text transform="translate(1477.4 582.0) scale(1 1.12)" font-size="13.2" font-weight="bold" fill="#000">8600,00</text>
<text transform="translate(1477.4 552.0) scale(1 1.12)" font-size="13.2" font-weight="bold" fill="#000">8800,00</text>
<text transform="translate(1477.4 521.0) scale(1 1.12)" font-size="13.2" font-weight="bold" fill="#000">9000,00</text>
<text transform="translate(1477.4 491.0) scale(1 1.12)" font-size="13.2" font-weight="bold" fill="#000">9200,00</text>
<text transform="translate(1477.4 460.0) scale(1 1.12)" font-size="13.2" font-weight="bold" fill="#000">9400,00</text>
<text transform="translate(1477.4 430.0) scale(1 1.12)" font-size="13.2" font-weight="bold" fill="#000">9600,00</text>
<text transform="translate(1477.4 399.0) scale(1 1.12)" font-size="13.2" font-weight="bold" fill="#000">9800,00</text>
<text transform="translate(1477.4 369.0) scale(1 1.12)" font-size="13.2" font-weight="bold" fill="#000">10000,00</text>
<text transform="translate(1477.4 339.0) scale(1 1.12)" font-size="13.2" font-weight="bold" fill="#000">10200,00</text>
<text transform="translate(1477.4 308.0) scale(1 1.12)" font-size="13.2" font-weight="bold" fill="#000">10400,00</text>
<text transform="translate(1477.4 278.0) scale(1 1.12)" font-size="13.2" font-weight="bold" fill="#000">10600,00</text>
<text transform="translate(1477.4 247.0) scale(1 1.12)" font-size="13.2" font-weight="bold" fill="#000">10800,00</text>
<text transform="translate(1477.4 217.0) scale(1 1.12)" font-size="13.2" font-weight="bold" fill="#000">11000,00</text>
<text transform="translate(1477.4 186.0) scale(1 1.12)" font-size="13.2" font-weight="bold" fill="#000">11200,00</text>
<text transform="translate(1477.4 156.0) scale(1 1.12)" font-size="13.2" font-weight="bold" fill="#000">11400,00</text>
<text transform="translate(1477.4 126.0) scale(1 1.12)" font-size="13.2" font-weight="bold" fill="#000">11600,00</text>
<text transform="translate(1477.4 95.0) scale(1 1.12)" font-size="13.2" font-weight="bold" fill="#000">11800,00</text>
<text transform="translate(1477.4 65.0) scale(1 1.12)" font-size="13.2" font-weight="bold" fill="#000">12000,00</text>
<text transform="translate(1477.4 715.0) scale(1 1.12)" font-size="13.2" font-weight="bold" fill="#000">10.00Mr</text>
<text transform="translate(1477.4 735.0) scale(1 1.12)" font-size="13.2" font-weight="bold" fill="#000">6.00Mr</text>
<text transform="translate(1477.4 755.0) scale(1 1.12)" font-size="13.2" font-weight="bold" fill="#000">2.00Mr</text>
</g>
<rect x="1467" y="109" width="60" height="20" fill="#000" shape-rendering="crispEdges"/>
<text x="1477.8" y="123.2" font-size="12.3" fill="#fff" textLength="39.5" lengthAdjust="spacing">11605,</text>
<rect x="1467" y="235" width="60" height="20" fill="#000" shape-rendering="crispEdges"/>
<text x="1477.8" y="249.2" font-size="12.3" fill="#fff" textLength="39.5" lengthAdjust="spacing">10780,</text>
<rect x="1467" y="270" width="60" height="20" fill="#000" shape-rendering="crispEdges"/>
<text x="1477.8" y="284.2" font-size="12.3" fill="#fff" textLength="39.5" lengthAdjust="spacing">10550,</text>
<rect x="1467" y="354" width="60" height="20" fill="#000" shape-rendering="crispEdges"/>
<text x="1477.8" y="368.2" font-size="12.3" fill="#fff" textLength="39.5" lengthAdjust="spacing">10000,</text>
<rect x="1467" y="384" width="60" height="20" fill="#000" shape-rendering="crispEdges"/>
<text x="1477.8" y="398.2" font-size="12.3" fill="#fff" textLength="39.5" lengthAdjust="spacing">9800,0</text>
<rect x="1467" y="426" width="60" height="20" fill="#000" shape-rendering="crispEdges"/>
<text x="1477.8" y="440.2" font-size="12.3" fill="#fff" textLength="39.5" lengthAdjust="spacing">9525,0</text>
<rect x="1467" y="467" width="60" height="20" fill="#000" shape-rendering="crispEdges"/>
<text x="1477.8" y="481.2" font-size="12.3" fill="#fff" textLength="39.5" lengthAdjust="spacing">9255,0</text>
<rect x="1467" y="498" width="60" height="20" fill="#000" shape-rendering="crispEdges"/>
<text x="1477.8" y="512.2" font-size="12.3" fill="#fff" textLength="39.5" lengthAdjust="spacing">9050,0</text>
<rect x="1467" y="549" width="60" height="20" fill="#000" shape-rendering="crispEdges"/>
<text x="1477.8" y="563.2" font-size="12.3" fill="#fff" textLength="39.5" lengthAdjust="spacing">8715,0</text>
<rect x="1467" y="572" width="60" height="20" fill="#000" shape-rendering="crispEdges"/>
<text x="1477.8" y="586.2" font-size="12.3" fill="#fff" textLength="39.5" lengthAdjust="spacing">8565,0</text>
<rect x="1467" y="192" width="60" height="20" fill="#000" shape-rendering="crispEdges"/>
<text x="1477.8" y="206.2" font-size="12.3" fill="#fff" textLength="39.5" lengthAdjust="spacing">11060,</text>
<rect x="1467" y="163" width="60" height="20" fill="#f00" shape-rendering="crispEdges"/>
<text x="1477.8" y="177.2" font-size="12.3" fill="#000" textLength="39.5" lengthAdjust="spacing">11252,</text>
<rect x="1467" y="316" width="60" height="20" fill="#f00" shape-rendering="crispEdges"/>
<text x="1477.8" y="330.2" font-size="12.3" fill="#000" textLength="39.5" lengthAdjust="spacing">10250,</text>
<rect x="1467" y="198" width="60" height="20" fill="#f00" shape-rendering="crispEdges"/>
<text x="1477.8" y="212.2" font-size="12.3" fill="#000" textLength="39.5" lengthAdjust="spacing">11025,</text>
<text transform="translate(6.6 697.4) scale(1 1.12)" font-size="13.25" font-weight="bold" fill="#f00">VOL (Lot)</text>
<text transform="translate(76.5 697.4) scale(1 1.12)" font-size="13.25" font-weight="bold" fill="#f00" xml:space="preserve" textLength="111.3" lengthAdjust="spacing">: 8.573.443.584,00</text>
<use href="#chk" x="223.5" y="688"/>
<rect x="1437.5" y="687.5" width="13.5" height="9" rx="2.2" fill="#f6e8ac" stroke="#dcc878" stroke-width="1"/>
<rect x="1452.5" y="687.5" width="13.5" height="9" rx="2.2" fill="#f6e8ac" stroke="#dcc878" stroke-width="1"/>
<text x="1441.2" y="694.6" font-size="6.8" font-weight="bold" fill="#222" letter-spacing="1.6">[]</text><text x="1457.4" y="694.4" font-size="7.4" font-weight="bold" fill="#222">x</text>
<rect x="5" y="762" width="214" height="20" fill="#7c7c7c" shape-rendering="crispEdges"/><rect x="5" y="763" width="213" height="18" fill="#000" shape-rendering="crispEdges"/>
<text x="7.8" y="776.2" font-size="12.3" fill="#ffff00" stroke="#ffff00" stroke-width="0.3" textLength="206.7" lengthAdjust="spacing">11.060,39 - 2.600.933 - 18:10:11</text>
<g shape-rendering="crispEdges" fill="#000">
<rect x="244" y="762" width="1" height="20"/>
<rect x="358" y="762" width="1" height="20"/>
<rect x="472" y="762" width="1" height="20"/>
<rect x="576" y="762" width="1" height="20"/>
<rect x="679" y="762" width="1" height="20"/>
<rect x="783" y="762" width="1" height="20"/>
<rect x="887" y="762" width="1" height="20"/>
<rect x="985" y="762" width="1" height="20"/>
<rect x="1099" y="762" width="1" height="20"/>
<rect x="1208" y="762" width="1" height="20"/>
<rect x="1322" y="762" width="1" height="20"/>
<rect x="1436" y="762" width="1" height="20"/>
</g>
<text x="243.8" y="777.2" font-size="12.3" fill="#000" textLength="32.6" lengthAdjust="spacing">12-24</text>
<text x="357.8" y="777.2" font-size="12.3" fill="#000" textLength="32.6" lengthAdjust="spacing">01-25</text>
<text x="471.8" y="777.2" font-size="12.3" fill="#000" textLength="32.6" lengthAdjust="spacing">02-25</text>
<text x="575.8" y="777.2" font-size="12.3" fill="#000" textLength="32.6" lengthAdjust="spacing">03-25</text>
<text x="678.8" y="777.2" font-size="12.3" fill="#000" textLength="32.6" lengthAdjust="spacing">04-25</text>
<text x="782.8" y="777.2" font-size="12.3" fill="#000" textLength="32.6" lengthAdjust="spacing">05-25</text>
<text x="886.8" y="777.2" font-size="12.3" fill="#000" textLength="32.6" lengthAdjust="spacing">06-25</text>
<text x="984.8" y="777.2" font-size="12.3" fill="#000" textLength="32.6" lengthAdjust="spacing">07-25</text>
<text x="1098.8" y="777.2" font-size="12.3" fill="#000" textLength="32.6" lengthAdjust="spacing">08-25</text>
<text x="1207.8" y="777.2" font-size="12.3" fill="#000" textLength="32.6" lengthAdjust="spacing">09-25</text>
<text x="1321.8" y="777.2" font-size="12.3" fill="#000" textLength="32.6" lengthAdjust="spacing">10-25</text>
<text x="1435.8" y="777.2" font-size="12.3" fill="#000" textLength="32.6" lengthAdjust="spacing">11-25</text>
</svg></body></html>
